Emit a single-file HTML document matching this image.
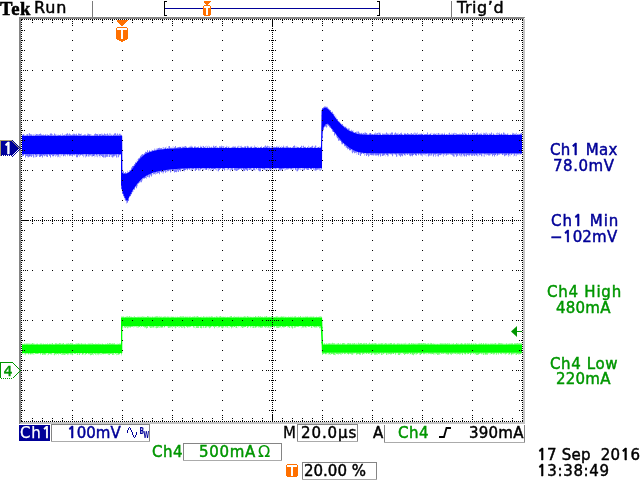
<!DOCTYPE html>
<html><head><meta charset="utf-8"><title>Tek scope</title>
<style>
html,body{margin:0;padding:0;background:#fff;width:640px;height:480px;overflow:hidden}
svg{display:block}
</style></head><body>
<svg width="640" height="480" viewBox="0 0 640 480" font-family="'DejaVu Sans', 'Liberation Sans', sans-serif">
<rect width="640" height="480" fill="#fff"/>
<text x="0" y="17.05" transform="scale(0.87,0.9)" font-family="'Liberation Serif', serif" font-weight="bold" font-size="21.5" letter-spacing="0.5" fill="#000" stroke="#000" stroke-width="0.6">Tek</text>
<text x="34.00" y="13" font-size="16" letter-spacing="0.90" fill="#000" stroke="#000" stroke-width="0.45">Run</text>
<rect x="92" y="1" width="1" height="16" fill="#7a7a7a"/>
<rect x="451" y="1" width="1" height="16" fill="#7a7a7a"/>
<text x="457.00" y="13" font-size="16" letter-spacing="0.54" fill="#000" stroke="#000" stroke-width="0.45">Trig&#8217;d</text>
<g shape-rendering="crispEdges">
<rect x="164" y="8" width="215" height="1" fill="#000098"/>
<path d="M164 1h3v1h-2v13h2v1h-3z M377 1h3v15h-3v-1h2v-13h-2z" fill="#000"/>
<path d="M204 1h7v1h-1v1h-1v1h-1v1h-2v-1h-1v-1h-1v-1h-1z" fill="#ff7000"/>
<path d="M204 5h6v1h1v9h-1v1h-6v-1h-1v-9h1z" fill="#ff7000"/>
<path d="M204 6h6v2h-2v7h-2v-7h-2z" fill="#fff"/>
<path d="M19 17h506v1h-1v1h-503v404h-1v1h-1z" fill="#858585"/>
<path d="M525 18v406h-505v-1h1v-1h502v-403h1z" fill="#c4c4c4"/>
</g>
<path d="M22 134.9h1v0.9h-1zM24 134.0h1v1.8h-1zM24 154.2h1v0.9h-1zM27 134.6h1v1.2h-1zM27 154.2h1v3.2h-1zM28 133.5h1v2.3h-1zM31 134.4h1v1.4h-1zM32 134.2h1v1.6h-1zM34 133.9h1v1.9h-1zM34 154.2h1v3.4h-1zM35 133.5h1v2.3h-1zM38 154.2h1v1.9h-1zM41 135.1h1v0.7h-1zM42 134.5h1v1.3h-1zM46 134.3h1v1.5h-1zM48 154.2h1v0.9h-1zM51 154.2h1v0.9h-1zM53 154.2h1v3.1h-1zM54 154.2h1v1.7h-1zM56 134.1h1v1.7h-1zM56 154.2h1v1.0h-1zM59 135.0h1v0.8h-1zM59 154.2h1v3.4h-1zM60 154.2h1v3.2h-1zM61 134.8h1v1.0h-1zM62 154.2h1v1.1h-1zM63 154.2h1v2.9h-1zM64 134.0h1v1.8h-1zM66 154.2h1v0.9h-1zM68 154.2h1v1.1h-1zM70 134.6h1v1.2h-1zM71 134.5h1v1.3h-1zM73 154.2h1v1.0h-1zM75 154.2h1v1.3h-1zM83 134.7h1v1.1h-1zM84 133.9h1v1.9h-1zM84 154.2h1v2.0h-1zM86 134.8h1v1.0h-1zM87 154.2h1v2.2h-1zM89 154.2h1v2.7h-1zM91 134.2h1v1.6h-1zM92 135.0h1v0.8h-1zM93 135.0h1v0.8h-1zM94 154.2h1v3.3h-1zM95 154.2h1v2.7h-1zM98 133.6h1v2.2h-1zM98 154.2h1v2.1h-1zM99 154.2h1v3.2h-1zM100 154.2h1v3.3h-1zM108 154.2h1v2.7h-1zM110 154.2h1v2.2h-1zM112 134.3h1v1.5h-1zM114 154.2h1v2.7h-1zM117 154.2h1v3.2h-1zM119 154.2h1v2.0h-1zM120 154.2h1v1.1h-1zM121 134.6h1v1.2h-1zM121 187.3h1v3.2h-1zM122 172.0h1v0.6h-1zM124 197.0h1v2.8h-1zM126 172.6h1v0.8h-1zM128 171.7h1v0.6h-1zM129 196.5h1v0.9h-1zM130 194.6h1v1.9h-1zM133 189.4h1v2.5h-1zM135 162.3h1v1.8h-1zM135 186.5h1v1.2h-1zM136 160.3h1v2.3h-1zM137 158.9h1v2.6h-1zM140 180.4h1v2.1h-1zM148 151.4h1v1.1h-1zM150 173.7h1v2.3h-1zM151 149.4h1v2.1h-1zM152 172.8h1v2.5h-1zM153 149.8h1v1.0h-1zM154 172.2h1v2.1h-1zM155 148.7h1v1.7h-1zM160 170.9h1v1.2h-1zM162 147.2h1v2.1h-1zM162 170.6h1v3.2h-1zM164 147.6h1v1.6h-1zM166 146.5h1v2.4h-1zM167 148.1h1v0.8h-1zM167 169.8h1v2.7h-1zM168 169.8h1v1.3h-1zM171 169.4h1v2.6h-1zM172 146.6h1v2.0h-1zM173 146.1h1v2.4h-1zM173 169.2h1v2.0h-1zM177 146.9h1v1.5h-1zM181 146.5h1v1.7h-1zM181 168.6h1v2.2h-1zM182 146.0h1v2.2h-1zM182 168.6h1v1.7h-1zM183 146.2h1v2.0h-1zM186 168.4h1v1.8h-1zM187 147.0h1v1.1h-1zM187 168.3h1v0.9h-1zM188 146.9h1v1.2h-1zM188 168.3h1v0.9h-1zM190 145.7h1v2.4h-1zM190 168.3h1v2.5h-1zM192 168.2h1v1.6h-1zM193 147.1h1v1.0h-1zM193 168.2h1v1.5h-1zM194 168.1h1v2.7h-1zM199 147.4h1v0.6h-1zM200 145.6h1v2.5h-1zM202 145.8h1v2.2h-1zM204 168.0h1v1.7h-1zM206 145.6h1v2.4h-1zM208 145.6h1v2.4h-1zM209 168.0h1v1.8h-1zM211 168.0h1v2.7h-1zM212 168.0h1v3.0h-1zM214 145.8h1v2.2h-1zM217 168.0h1v3.3h-1zM218 147.0h1v1.0h-1zM221 168.0h1v1.2h-1zM224 146.3h1v1.7h-1zM225 168.0h1v2.0h-1zM226 145.5h1v2.5h-1zM226 168.0h1v2.2h-1zM227 146.0h1v2.0h-1zM228 147.2h1v0.8h-1zM229 146.2h1v1.8h-1zM229 168.0h1v2.2h-1zM230 147.1h1v0.9h-1zM233 168.0h1v1.6h-1zM234 146.1h1v1.9h-1zM236 146.9h1v1.1h-1zM239 145.7h1v2.3h-1zM239 168.0h1v2.0h-1zM242 168.0h1v3.4h-1zM246 145.9h1v2.1h-1zM250 168.0h1v1.6h-1zM252 146.2h1v1.8h-1zM252 168.0h1v2.8h-1zM255 168.0h1v2.8h-1zM256 168.0h1v2.1h-1zM257 145.9h1v2.1h-1zM257 168.0h1v1.9h-1zM259 147.0h1v1.0h-1zM260 147.0h1v1.0h-1zM262 147.3h1v0.7h-1zM262 168.0h1v1.0h-1zM270 146.2h1v1.8h-1zM272 147.3h1v0.7h-1zM273 146.8h1v1.2h-1zM273 168.0h1v3.1h-1zM277 145.7h1v2.3h-1zM277 168.0h1v0.9h-1zM279 145.6h1v2.4h-1zM284 146.4h1v1.6h-1zM284 168.0h1v3.1h-1zM285 145.9h1v2.1h-1zM287 145.6h1v2.4h-1zM291 147.0h1v1.0h-1zM291 168.0h1v1.1h-1zM294 168.0h1v1.0h-1zM295 168.0h1v2.4h-1zM298 168.0h1v2.7h-1zM299 147.1h1v0.9h-1zM301 168.0h1v2.0h-1zM302 145.9h1v2.1h-1zM304 168.0h1v2.4h-1zM306 147.4h1v0.6h-1zM307 147.1h1v0.9h-1zM309 168.0h1v1.5h-1zM310 147.1h1v0.9h-1zM311 146.0h1v2.0h-1zM313 146.3h1v1.7h-1zM316 145.7h1v2.3h-1zM316 168.0h1v3.2h-1zM317 168.0h1v1.9h-1zM322 108.2h1v0.8h-1zM325 124.6h1v1.6h-1zM326 107.1h1v1.0h-1zM327 123.9h1v3.1h-1zM331 111.4h1v1.2h-1zM334 114.0h1v2.3h-1zM335 115.2h1v2.4h-1zM335 133.6h1v1.5h-1zM336 116.8h1v2.2h-1zM339 121.2h1v1.6h-1zM339 138.7h1v1.2h-1zM343 143.2h1v1.1h-1zM345 144.8h1v2.9h-1zM346 126.6h1v2.3h-1zM346 145.6h1v2.4h-1zM348 127.7h1v2.6h-1zM348 147.3h1v1.8h-1zM349 148.1h1v2.8h-1zM350 130.0h1v1.2h-1zM351 129.5h1v2.2h-1zM351 149.4h1v2.9h-1zM353 130.1h1v2.5h-1zM353 150.3h1v2.2h-1zM354 132.0h1v0.9h-1zM355 131.9h1v1.2h-1zM356 131.0h1v2.4h-1zM356 151.7h1v3.4h-1zM357 151.9h1v1.8h-1zM359 152.3h1v2.9h-1zM362 132.8h1v1.7h-1zM362 152.7h1v1.4h-1zM365 153.0h1v2.1h-1zM367 133.3h1v1.5h-1zM367 153.2h1v1.8h-1zM368 134.1h1v0.7h-1zM369 133.0h1v1.8h-1zM371 153.3h1v1.8h-1zM374 133.0h1v1.9h-1zM380 132.4h1v2.6h-1zM381 134.4h1v0.6h-1zM381 153.4h1v2.4h-1zM384 153.4h1v2.4h-1zM385 132.9h1v2.1h-1zM385 153.4h1v3.1h-1zM386 153.4h1v1.5h-1zM387 134.3h1v0.7h-1zM389 153.4h1v1.2h-1zM390 133.9h1v1.1h-1zM390 153.4h1v1.6h-1zM393 134.0h1v1.0h-1zM393 153.4h1v1.8h-1zM396 133.3h1v1.7h-1zM397 153.4h1v3.0h-1zM398 132.5h1v2.5h-1zM399 153.4h1v2.1h-1zM401 153.4h1v1.5h-1zM403 133.4h1v1.6h-1zM403 153.4h1v1.8h-1zM404 153.4h1v1.7h-1zM406 153.4h1v1.7h-1zM408 153.4h1v1.4h-1zM410 133.0h1v2.0h-1zM412 134.3h1v0.7h-1zM414 153.4h1v1.5h-1zM416 134.2h1v0.8h-1zM417 153.4h1v0.9h-1zM418 153.4h1v0.8h-1zM419 153.4h1v1.3h-1zM423 132.6h1v2.4h-1zM424 133.9h1v1.1h-1zM425 153.4h1v2.7h-1zM426 153.4h1v3.1h-1zM427 153.4h1v2.0h-1zM431 132.7h1v2.3h-1zM432 133.2h1v1.8h-1zM432 153.4h1v2.0h-1zM433 132.9h1v2.1h-1zM434 153.4h1v1.1h-1zM435 133.5h1v1.5h-1zM436 153.4h1v2.5h-1zM439 133.1h1v1.9h-1zM440 153.4h1v1.4h-1zM441 133.0h1v2.0h-1zM441 153.4h1v1.2h-1zM442 134.1h1v0.9h-1zM442 153.4h1v2.2h-1zM445 153.4h1v2.7h-1zM449 153.4h1v1.4h-1zM451 132.8h1v2.2h-1zM451 153.4h1v0.9h-1zM452 133.1h1v1.9h-1zM455 153.4h1v1.3h-1zM458 153.4h1v2.4h-1zM460 133.3h1v1.7h-1zM462 153.4h1v3.3h-1zM467 133.8h1v1.2h-1zM469 153.4h1v3.0h-1zM473 153.4h1v2.3h-1zM478 133.5h1v1.5h-1zM478 153.4h1v2.9h-1zM479 133.2h1v1.8h-1zM479 153.4h1v2.9h-1zM481 132.6h1v2.4h-1zM482 133.7h1v1.3h-1zM482 153.4h1v2.9h-1zM483 153.4h1v3.1h-1zM485 132.5h1v2.5h-1zM487 134.1h1v0.9h-1zM488 133.2h1v1.8h-1zM490 134.0h1v1.0h-1zM492 133.6h1v1.4h-1zM493 134.0h1v1.0h-1zM495 133.7h1v1.3h-1zM495 153.4h1v1.5h-1zM496 153.4h1v2.8h-1zM500 153.4h1v1.2h-1zM501 153.4h1v1.0h-1zM502 153.4h1v1.8h-1zM506 153.4h1v1.7h-1zM507 153.4h1v2.1h-1zM508 133.6h1v1.4h-1zM509 134.3h1v0.7h-1zM510 153.4h1v3.2h-1zM511 134.3h1v0.7h-1zM513 153.4h1v3.4h-1zM515 153.4h1v2.8h-1zM517 134.0h1v1.0h-1zM518 133.5h1v1.5h-1zM519 153.4h1v2.1h-1z" fill="#0000ff" fill-opacity="0.15"/><path d="M23 134.2h1v1.6h-1zM23 154.2h1v0.8h-1zM25 135.2h1v0.6h-1zM26 134.3h1v1.5h-1zM29 154.2h1v2.5h-1zM32 154.2h1v1.8h-1zM33 134.3h1v1.5h-1zM35 154.2h1v3.0h-1zM37 154.2h1v2.1h-1zM40 154.2h1v2.9h-1zM41 154.2h1v1.5h-1zM43 134.3h1v1.5h-1zM43 154.2h1v1.6h-1zM45 134.7h1v1.1h-1zM48 135.1h1v0.7h-1zM49 134.6h1v1.2h-1zM49 154.2h1v1.9h-1zM52 133.9h1v1.9h-1zM55 154.2h1v2.6h-1zM57 134.7h1v1.1h-1zM57 154.2h1v3.0h-1zM58 154.2h1v2.7h-1zM61 154.2h1v1.7h-1zM62 133.3h1v2.5h-1zM65 134.3h1v1.5h-1zM65 154.2h1v2.2h-1zM66 133.8h1v2.0h-1zM67 154.2h1v2.0h-1zM69 154.2h1v2.0h-1zM70 154.2h1v1.0h-1zM71 154.2h1v1.7h-1zM72 134.0h1v1.8h-1zM73 133.6h1v2.2h-1zM74 133.7h1v2.1h-1zM76 133.6h1v2.2h-1zM78 154.2h1v1.3h-1zM79 154.2h1v2.6h-1zM80 154.2h1v0.8h-1zM81 133.6h1v2.2h-1zM82 134.9h1v0.9h-1zM83 154.2h1v3.1h-1zM85 154.2h1v3.2h-1zM86 154.2h1v2.5h-1zM87 133.4h1v2.4h-1zM89 134.8h1v1.0h-1zM90 133.9h1v1.9h-1zM91 154.2h1v2.4h-1zM93 154.2h1v1.8h-1zM96 154.2h1v2.4h-1zM97 134.1h1v1.7h-1zM97 154.2h1v3.0h-1zM99 134.1h1v1.7h-1zM101 133.6h1v2.2h-1zM102 133.8h1v2.0h-1zM103 135.0h1v0.8h-1zM104 154.2h1v3.4h-1zM106 134.1h1v1.7h-1zM109 133.3h1v2.5h-1zM110 133.6h1v2.2h-1zM111 154.2h1v2.7h-1zM113 134.6h1v1.2h-1zM113 154.2h1v3.1h-1zM120 133.8h1v2.0h-1zM124 173.2h1v0.8h-1zM125 172.0h1v1.7h-1zM126 200.6h1v3.0h-1zM127 170.7h1v2.3h-1zM129 170.0h1v1.5h-1zM130 169.8h1v0.9h-1zM131 192.7h1v1.3h-1zM133 165.4h1v1.8h-1zM137 183.7h1v2.5h-1zM138 157.9h1v2.4h-1zM138 182.6h1v1.0h-1zM139 181.5h1v1.5h-1zM140 155.7h1v2.3h-1zM142 178.4h1v2.2h-1zM143 154.2h1v1.0h-1zM143 177.7h1v1.1h-1zM144 177.0h1v1.9h-1zM146 152.6h1v0.7h-1zM146 175.6h1v3.2h-1zM148 174.6h1v2.7h-1zM149 149.9h1v2.2h-1zM150 151.1h1v0.7h-1zM154 148.6h1v2.0h-1zM155 172.0h1v2.7h-1zM156 148.6h1v1.7h-1zM156 171.8h1v2.1h-1zM157 171.5h1v0.9h-1zM160 148.3h1v1.2h-1zM161 170.8h1v1.8h-1zM163 147.1h1v2.2h-1zM163 170.4h1v3.0h-1zM164 170.2h1v1.2h-1zM165 146.9h1v2.2h-1zM166 169.9h1v2.1h-1zM168 146.2h1v2.5h-1zM171 147.4h1v1.2h-1zM172 169.3h1v1.1h-1zM177 168.9h1v2.6h-1zM179 146.7h1v1.6h-1zM179 168.8h1v1.6h-1zM180 146.7h1v1.5h-1zM184 168.4h1v3.1h-1zM191 145.7h1v2.3h-1zM191 168.2h1v2.7h-1zM192 146.4h1v1.7h-1zM194 146.4h1v1.7h-1zM196 147.4h1v0.7h-1zM197 147.0h1v1.0h-1zM197 168.1h1v1.2h-1zM199 168.0h1v2.5h-1zM200 168.0h1v2.4h-1zM201 146.6h1v1.4h-1zM202 168.0h1v2.2h-1zM203 168.0h1v2.5h-1zM205 146.0h1v2.0h-1zM206 168.0h1v1.9h-1zM207 168.0h1v1.2h-1zM208 168.0h1v2.4h-1zM210 146.9h1v1.1h-1zM210 168.0h1v2.8h-1zM212 147.2h1v0.8h-1zM214 168.0h1v1.1h-1zM216 145.8h1v2.2h-1zM216 168.0h1v2.5h-1zM221 145.5h1v2.5h-1zM222 146.0h1v2.0h-1zM223 168.0h1v1.3h-1zM225 146.9h1v1.1h-1zM227 168.0h1v2.2h-1zM228 168.0h1v0.9h-1zM230 168.0h1v3.4h-1zM231 147.0h1v1.0h-1zM237 146.2h1v1.8h-1zM238 145.7h1v2.3h-1zM238 168.0h1v1.9h-1zM240 145.9h1v2.1h-1zM241 145.7h1v2.3h-1zM243 168.0h1v3.2h-1zM245 146.6h1v1.4h-1zM245 168.0h1v2.2h-1zM246 168.0h1v2.2h-1zM247 145.8h1v2.2h-1zM248 168.0h1v1.7h-1zM249 147.3h1v0.7h-1zM251 146.2h1v1.8h-1zM251 168.0h1v2.9h-1zM253 146.9h1v1.1h-1zM254 145.6h1v2.4h-1zM255 146.8h1v1.2h-1zM256 147.2h1v0.8h-1zM261 168.0h1v0.9h-1zM263 147.0h1v1.0h-1zM264 168.0h1v1.9h-1zM265 168.0h1v2.5h-1zM266 146.2h1v1.8h-1zM266 168.0h1v2.6h-1zM267 168.0h1v3.2h-1zM268 145.9h1v2.1h-1zM268 168.0h1v1.2h-1zM270 168.0h1v2.0h-1zM271 146.0h1v2.0h-1zM271 168.0h1v2.4h-1zM274 168.0h1v1.6h-1zM276 146.1h1v1.9h-1zM276 168.0h1v2.2h-1zM278 146.9h1v1.1h-1zM278 168.0h1v2.7h-1zM279 168.0h1v2.6h-1zM280 147.3h1v0.7h-1zM280 168.0h1v2.9h-1zM281 146.2h1v1.8h-1zM281 168.0h1v2.5h-1zM282 147.2h1v0.8h-1zM283 145.4h1v2.6h-1zM285 168.0h1v2.2h-1zM288 147.3h1v0.7h-1zM289 147.0h1v1.0h-1zM289 168.0h1v1.1h-1zM290 147.1h1v0.9h-1zM290 168.0h1v1.5h-1zM292 168.0h1v1.5h-1zM293 168.0h1v1.7h-1zM295 146.4h1v1.6h-1zM296 146.5h1v1.5h-1zM296 168.0h1v3.2h-1zM297 146.7h1v1.3h-1zM299 168.0h1v1.5h-1zM300 147.1h1v0.9h-1zM300 168.0h1v2.2h-1zM302 168.0h1v2.7h-1zM303 168.0h1v2.5h-1zM304 147.0h1v1.0h-1zM305 168.0h1v0.9h-1zM308 145.7h1v2.3h-1zM309 146.7h1v1.3h-1zM310 168.0h1v1.3h-1zM311 168.0h1v1.3h-1zM312 168.0h1v0.8h-1zM313 168.0h1v2.1h-1zM314 168.0h1v2.5h-1zM315 168.0h1v3.0h-1zM317 146.9h1v1.1h-1zM318 147.3h1v0.7h-1zM319 146.4h1v1.6h-1zM319 168.0h1v2.6h-1zM320 168.0h1v3.1h-1zM321 115.4h1v0.9h-1zM327 106.8h1v1.7h-1zM328 108.3h1v1.0h-1zM328 124.6h1v1.1h-1zM331 128.2h1v0.8h-1zM333 130.8h1v1.2h-1zM336 135.0h1v2.2h-1zM337 136.4h1v2.0h-1zM340 122.7h1v1.0h-1zM341 123.7h1v0.9h-1zM341 141.0h1v3.2h-1zM342 142.1h1v2.5h-1zM343 125.6h1v0.9h-1zM344 126.3h1v1.2h-1zM345 126.5h1v1.7h-1zM347 128.3h1v1.3h-1zM347 146.4h1v3.1h-1zM349 128.3h1v2.5h-1zM350 148.9h1v1.6h-1zM352 131.3h1v0.9h-1zM357 131.4h1v2.4h-1zM360 133.0h1v1.3h-1zM361 132.8h1v1.6h-1zM361 152.6h1v1.7h-1zM364 132.5h1v2.2h-1zM364 152.9h1v2.8h-1zM369 153.2h1v2.6h-1zM370 133.1h1v1.7h-1zM373 134.1h1v0.8h-1zM374 153.4h1v1.9h-1zM375 132.6h1v2.3h-1zM378 132.4h1v2.6h-1zM378 153.4h1v3.1h-1zM383 153.4h1v2.6h-1zM387 153.4h1v3.0h-1zM388 153.4h1v2.9h-1zM389 133.6h1v1.4h-1zM394 153.4h1v1.1h-1zM395 153.4h1v1.3h-1zM398 153.4h1v1.8h-1zM399 134.0h1v1.0h-1zM401 132.6h1v2.4h-1zM404 133.1h1v1.9h-1zM405 133.2h1v1.8h-1zM405 153.4h1v2.4h-1zM408 134.4h1v0.6h-1zM409 134.2h1v0.8h-1zM412 153.4h1v3.0h-1zM414 132.6h1v2.4h-1zM415 132.8h1v2.2h-1zM415 153.4h1v2.0h-1zM417 132.5h1v2.5h-1zM420 153.4h1v2.2h-1zM421 133.4h1v1.6h-1zM422 134.0h1v1.0h-1zM422 153.4h1v3.0h-1zM424 153.4h1v1.8h-1zM428 134.0h1v1.0h-1zM430 133.9h1v1.1h-1zM430 153.4h1v2.3h-1zM431 153.4h1v2.4h-1zM435 153.4h1v3.3h-1zM436 133.3h1v1.7h-1zM437 133.5h1v1.5h-1zM437 153.4h1v2.8h-1zM440 133.7h1v1.3h-1zM443 134.0h1v1.0h-1zM443 153.4h1v3.3h-1zM444 132.7h1v2.3h-1zM444 153.4h1v1.5h-1zM445 134.4h1v0.6h-1zM447 133.9h1v1.1h-1zM447 153.4h1v1.5h-1zM448 133.5h1v1.5h-1zM448 153.4h1v1.5h-1zM453 133.7h1v1.3h-1zM454 132.8h1v2.2h-1zM454 153.4h1v3.4h-1zM455 132.9h1v2.1h-1zM460 153.4h1v3.2h-1zM461 153.4h1v3.2h-1zM464 132.6h1v2.4h-1zM465 132.9h1v2.1h-1zM465 153.4h1v2.4h-1zM469 134.2h1v0.8h-1zM470 133.3h1v1.7h-1zM470 153.4h1v1.7h-1zM471 134.1h1v0.9h-1zM473 132.8h1v2.2h-1zM475 153.4h1v1.8h-1zM476 133.1h1v1.9h-1zM476 153.4h1v1.5h-1zM477 153.4h1v3.0h-1zM483 132.8h1v2.2h-1zM484 153.4h1v3.3h-1zM486 132.5h1v2.5h-1zM486 153.4h1v2.0h-1zM490 153.4h1v1.8h-1zM491 153.4h1v1.0h-1zM494 134.3h1v0.7h-1zM496 133.0h1v2.0h-1zM497 132.5h1v2.5h-1zM497 153.4h1v2.6h-1zM498 133.0h1v2.0h-1zM498 153.4h1v1.5h-1zM499 132.5h1v2.5h-1zM499 153.4h1v1.7h-1zM501 133.3h1v1.7h-1zM502 134.0h1v1.0h-1zM503 153.4h1v1.4h-1zM504 132.8h1v2.2h-1zM505 133.7h1v1.3h-1zM506 134.1h1v0.9h-1zM508 153.4h1v3.3h-1zM509 153.4h1v2.4h-1zM510 133.9h1v1.1h-1zM512 132.7h1v2.3h-1zM512 153.4h1v0.9h-1zM516 132.7h1v2.3h-1zM516 153.4h1v2.9h-1zM518 153.4h1v1.3h-1zM520 133.7h1v1.3h-1zM521 153.4h1v0.9h-1z" fill="#0000ff" fill-opacity="0.3"/><path d="M22 134.8h1v1.0h-1zM22 154.2h1v2.0h-1zM22 154.2h1v0.8h-1zM23 134.5h1v1.3h-1zM23 154.2h1v1.7h-1zM25 154.2h1v3.3h-1zM25 154.2h1v0.8h-1zM26 154.2h1v1.7h-1zM26 154.2h1v1.2h-1zM27 134.3h1v1.5h-1zM27 154.2h1v2.0h-1zM28 154.2h1v3.1h-1zM29 133.3h1v2.5h-1zM29 154.2h1v2.0h-1zM30 134.2h1v1.6h-1zM30 134.4h1v1.4h-1zM30 154.2h1v2.0h-1zM31 134.4h1v1.4h-1zM31 154.2h1v2.8h-1zM31 154.2h1v1.2h-1zM33 154.2h1v3.4h-1zM35 134.9h1v0.9h-1zM35 154.2h1v0.9h-1zM36 134.1h1v1.7h-1zM36 134.5h1v1.3h-1zM36 154.2h1v2.9h-1zM37 134.9h1v0.9h-1zM37 134.3h1v1.5h-1zM38 134.8h1v1.0h-1zM38 134.4h1v1.4h-1zM39 134.0h1v1.8h-1zM39 134.7h1v1.1h-1zM39 154.2h1v2.9h-1zM39 154.2h1v1.4h-1zM40 133.5h1v2.3h-1zM40 154.2h1v2.0h-1zM41 134.5h1v1.3h-1zM41 154.2h1v1.5h-1zM42 135.0h1v0.8h-1zM42 154.2h1v3.3h-1zM42 154.2h1v1.6h-1zM43 135.2h1v0.6h-1zM43 154.2h1v0.8h-1zM44 135.0h1v0.8h-1zM44 154.2h1v1.3h-1zM44 154.2h1v2.0h-1zM45 134.5h1v1.3h-1zM45 154.2h1v1.2h-1zM46 154.2h1v2.4h-1zM47 134.8h1v1.0h-1zM47 134.6h1v1.2h-1zM47 154.2h1v2.9h-1zM48 135.1h1v0.7h-1zM49 154.2h1v1.4h-1zM50 133.5h1v2.3h-1zM50 154.2h1v3.3h-1zM50 154.2h1v1.8h-1zM51 133.5h1v2.3h-1zM51 154.2h1v0.8h-1zM52 154.2h1v2.1h-1zM52 154.2h1v1.3h-1zM53 135.2h1v0.6h-1zM53 154.2h1v1.8h-1zM54 133.6h1v2.2h-1zM54 154.2h1v0.6h-1zM55 134.4h1v1.4h-1zM55 134.4h1v1.4h-1zM56 154.2h1v1.3h-1zM57 154.2h1v0.7h-1zM58 134.7h1v1.1h-1zM58 154.2h1v1.3h-1zM59 134.9h1v0.9h-1zM60 134.5h1v1.3h-1zM63 135.2h1v0.6h-1zM63 134.9h1v0.9h-1zM63 154.2h1v1.7h-1zM64 135.1h1v0.7h-1zM64 154.2h1v1.4h-1zM66 134.6h1v1.2h-1zM67 133.3h1v2.5h-1zM67 154.2h1v0.6h-1zM68 134.6h1v1.2h-1zM69 133.6h1v2.2h-1zM69 154.2h1v1.3h-1zM70 134.4h1v1.4h-1zM70 154.2h1v1.4h-1zM71 135.0h1v0.8h-1zM72 135.2h1v0.6h-1zM72 154.2h1v2.4h-1zM72 154.2h1v0.8h-1zM73 134.7h1v1.1h-1zM73 154.2h1v0.5h-1zM74 134.4h1v1.4h-1zM74 154.2h1v1.2h-1zM75 134.5h1v1.3h-1zM76 134.5h1v1.3h-1zM76 154.2h1v3.0h-1zM76 154.2h1v1.9h-1zM77 134.9h1v0.9h-1zM77 135.0h1v0.8h-1zM77 154.2h1v3.1h-1zM78 133.5h1v2.3h-1zM78 154.2h1v0.7h-1zM79 133.8h1v2.0h-1zM79 134.5h1v1.3h-1zM80 134.1h1v1.7h-1zM80 134.7h1v1.1h-1zM80 154.2h1v1.2h-1zM81 154.2h1v0.8h-1zM81 154.2h1v0.7h-1zM82 154.2h1v1.5h-1zM82 154.2h1v1.4h-1zM83 135.0h1v0.8h-1zM84 134.8h1v1.0h-1zM85 134.5h1v1.3h-1zM86 154.2h1v1.7h-1zM87 135.0h1v0.8h-1zM88 133.7h1v2.1h-1zM88 135.2h1v0.6h-1zM88 154.2h1v2.4h-1zM89 134.3h1v1.5h-1zM89 154.2h1v1.1h-1zM90 154.2h1v1.2h-1zM92 154.2h1v2.4h-1zM93 154.2h1v1.9h-1zM94 134.3h1v1.5h-1zM94 154.2h1v1.3h-1zM95 133.4h1v2.4h-1zM95 135.0h1v0.8h-1zM96 134.1h1v1.7h-1zM96 134.6h1v1.2h-1zM96 154.2h1v0.9h-1zM97 134.5h1v1.3h-1zM99 134.4h1v1.4h-1zM99 154.2h1v1.7h-1zM100 134.1h1v1.7h-1zM100 154.2h1v1.1h-1zM101 154.2h1v1.7h-1zM101 154.2h1v0.7h-1zM102 134.9h1v0.9h-1zM102 154.2h1v2.8h-1zM103 134.7h1v1.1h-1zM103 154.2h1v3.4h-1zM104 133.4h1v2.4h-1zM105 134.2h1v1.6h-1zM105 154.2h1v3.4h-1zM105 154.2h1v1.5h-1zM106 154.2h1v2.6h-1zM106 154.2h1v1.1h-1zM107 133.5h1v2.3h-1zM107 154.2h1v2.6h-1zM107 154.2h1v2.0h-1zM108 134.7h1v1.1h-1zM108 135.3h1v0.5h-1zM109 154.2h1v2.8h-1zM109 154.2h1v1.9h-1zM110 154.2h1v0.9h-1zM111 134.9h1v0.9h-1zM111 134.8h1v1.0h-1zM111 154.2h1v0.6h-1zM112 154.2h1v3.3h-1zM112 154.2h1v1.5h-1zM113 135.1h1v0.7h-1zM113 154.2h1v1.6h-1zM114 133.4h1v2.4h-1zM114 134.8h1v1.0h-1zM114 154.2h1v1.6h-1zM115 133.2h1v2.6h-1zM115 134.7h1v1.1h-1zM115 154.2h1v1.4h-1zM115 154.2h1v1.2h-1zM116 134.7h1v1.1h-1zM116 135.1h1v0.7h-1zM116 154.2h1v3.3h-1zM116 154.2h1v1.5h-1zM117 133.5h1v2.3h-1zM117 134.3h1v1.5h-1zM118 134.8h1v1.0h-1zM118 154.2h1v3.1h-1zM118 154.2h1v1.9h-1zM119 133.7h1v2.1h-1zM119 154.2h1v0.7h-1zM120 134.9h1v0.9h-1zM121 135.0h1v0.8h-1zM121 187.3h1v1.7h-1zM122 192.0h1v2.1h-1zM123 171.2h1v2.5h-1zM123 172.5h1v1.2h-1zM123 194.7h1v1.5h-1zM124 173.0h1v1.0h-1zM124 197.0h1v0.9h-1zM125 172.5h1v1.3h-1zM125 199.0h1v1.7h-1zM125 199.0h1v0.8h-1zM127 200.8h1v1.8h-1zM127 200.8h1v1.9h-1zM128 198.7h1v2.2h-1zM128 198.7h1v0.7h-1zM130 194.6h1v1.5h-1zM131 167.5h1v2.1h-1zM131 192.7h1v1.5h-1zM132 165.9h1v2.5h-1zM132 190.9h1v1.4h-1zM133 165.9h1v1.2h-1zM134 164.1h1v1.7h-1zM134 164.4h1v1.4h-1zM134 187.9h1v1.9h-1zM134 187.9h1v0.9h-1zM135 162.6h1v1.5h-1zM136 185.0h1v3.2h-1zM136 185.0h1v1.1h-1zM137 160.9h1v0.5h-1zM138 159.2h1v1.1h-1zM138 182.6h1v0.6h-1zM139 157.8h1v1.4h-1zM139 157.9h1v1.3h-1zM140 156.6h1v1.4h-1zM140 180.4h1v1.0h-1zM141 154.8h1v2.2h-1zM141 156.3h1v0.6h-1zM141 179.3h1v2.9h-1zM142 154.1h1v2.0h-1zM143 177.7h1v0.6h-1zM144 153.3h1v1.2h-1zM144 177.0h1v1.0h-1zM145 151.8h1v2.1h-1zM145 153.3h1v0.6h-1zM145 176.3h1v1.6h-1zM145 176.3h1v1.0h-1zM146 151.9h1v1.5h-1zM147 150.3h1v2.5h-1zM147 175.1h1v1.1h-1zM147 175.1h1v1.8h-1zM149 151.1h1v1.0h-1zM149 174.2h1v3.3h-1zM150 173.7h1v1.1h-1zM151 173.3h1v3.3h-1zM151 173.3h1v0.7h-1zM152 150.0h1v1.1h-1zM153 172.4h1v1.9h-1zM153 172.4h1v1.8h-1zM154 149.9h1v0.7h-1zM154 172.2h1v1.5h-1zM155 172.0h1v0.5h-1zM157 148.4h1v1.6h-1zM157 171.5h1v2.0h-1zM158 147.9h1v2.0h-1zM158 149.2h1v0.6h-1zM158 171.3h1v1.6h-1zM158 171.3h1v1.7h-1zM159 147.8h1v1.9h-1zM159 148.8h1v0.9h-1zM159 171.1h1v3.2h-1zM159 171.1h1v1.5h-1zM160 148.6h1v1.0h-1zM160 170.9h1v0.5h-1zM161 148.0h1v1.4h-1zM161 170.8h1v1.5h-1zM162 170.6h1v1.2h-1zM163 170.4h1v1.7h-1zM164 148.6h1v0.5h-1zM164 170.2h1v0.7h-1zM165 148.0h1v1.0h-1zM165 170.1h1v2.7h-1zM165 170.1h1v1.0h-1zM167 148.2h1v0.7h-1zM167 169.8h1v1.2h-1zM168 169.8h1v1.4h-1zM169 146.1h1v2.6h-1zM169 147.7h1v0.9h-1zM169 169.7h1v0.9h-1zM170 147.8h1v0.8h-1zM170 169.6h1v3.0h-1zM170 169.6h1v0.9h-1zM172 169.3h1v1.3h-1zM173 169.2h1v1.9h-1zM174 147.4h1v1.0h-1zM174 147.2h1v1.3h-1zM174 169.2h1v3.2h-1zM174 169.2h1v1.3h-1zM175 146.0h1v2.4h-1zM175 169.1h1v2.9h-1zM175 169.1h1v1.2h-1zM176 147.8h1v0.6h-1zM176 169.0h1v3.2h-1zM176 169.0h1v1.3h-1zM177 147.6h1v0.8h-1zM177 168.9h1v0.9h-1zM178 146.9h1v1.4h-1zM178 168.8h1v3.3h-1zM179 147.3h1v1.0h-1zM179 168.8h1v1.1h-1zM180 146.9h1v1.3h-1zM180 168.7h1v2.7h-1zM182 147.2h1v1.0h-1zM183 147.1h1v1.1h-1zM183 168.5h1v2.6h-1zM183 168.5h1v0.7h-1zM184 146.4h1v1.7h-1zM184 168.4h1v1.7h-1zM185 145.9h1v2.2h-1zM185 146.8h1v1.3h-1zM185 168.4h1v1.5h-1zM186 146.8h1v1.3h-1zM186 168.4h1v0.7h-1zM187 168.3h1v2.0h-1zM188 147.5h1v0.6h-1zM189 146.7h1v1.3h-1zM189 168.3h1v1.4h-1zM189 168.3h1v0.5h-1zM190 146.7h1v1.4h-1zM191 147.0h1v1.1h-1zM192 147.3h1v0.7h-1zM192 168.2h1v1.3h-1zM193 168.2h1v0.9h-1zM194 146.8h1v1.3h-1zM195 146.4h1v1.7h-1zM195 168.1h1v2.9h-1zM196 147.4h1v0.6h-1zM196 168.1h1v1.0h-1zM196 168.1h1v1.9h-1zM197 147.2h1v0.8h-1zM198 146.6h1v1.4h-1zM198 147.2h1v0.8h-1zM198 168.0h1v2.6h-1zM200 146.7h1v1.3h-1zM200 168.0h1v1.1h-1zM201 147.0h1v1.0h-1zM201 168.0h1v0.9h-1zM203 145.9h1v2.2h-1zM204 146.9h1v1.1h-1zM204 146.9h1v1.1h-1zM204 168.0h1v0.6h-1zM205 168.0h1v1.7h-1zM206 168.0h1v1.8h-1zM207 146.5h1v1.5h-1zM207 146.9h1v1.1h-1zM209 147.2h1v0.8h-1zM209 146.6h1v1.5h-1zM209 168.0h1v0.9h-1zM211 146.7h1v1.3h-1zM211 168.0h1v1.1h-1zM212 168.0h1v1.1h-1zM213 145.8h1v2.2h-1zM213 147.3h1v0.7h-1zM213 168.0h1v2.8h-1zM214 146.9h1v1.1h-1zM214 168.0h1v1.1h-1zM215 146.1h1v1.9h-1zM215 168.0h1v1.4h-1zM215 168.0h1v0.5h-1zM217 147.2h1v0.8h-1zM217 168.0h1v0.5h-1zM218 168.0h1v3.2h-1zM218 168.0h1v1.3h-1zM219 146.2h1v1.8h-1zM219 147.1h1v0.9h-1zM219 168.0h1v2.0h-1zM220 146.6h1v1.4h-1zM220 146.6h1v1.4h-1zM220 168.0h1v0.9h-1zM220 168.0h1v0.5h-1zM221 146.7h1v1.3h-1zM222 168.0h1v2.5h-1zM223 146.3h1v1.7h-1zM223 147.1h1v0.9h-1zM223 168.0h1v0.7h-1zM224 168.0h1v2.4h-1zM224 168.0h1v1.9h-1zM225 147.2h1v0.8h-1zM226 146.7h1v1.3h-1zM228 146.8h1v1.2h-1zM228 168.0h1v1.6h-1zM231 168.0h1v1.7h-1zM231 168.0h1v1.3h-1zM232 146.8h1v1.2h-1zM232 147.2h1v0.8h-1zM232 168.0h1v2.9h-1zM232 168.0h1v1.1h-1zM233 146.5h1v1.5h-1zM233 146.6h1v1.4h-1zM234 147.0h1v1.0h-1zM234 168.0h1v2.3h-1zM234 168.0h1v1.3h-1zM235 147.2h1v0.8h-1zM235 146.5h1v1.5h-1zM235 168.0h1v2.5h-1zM235 168.0h1v1.6h-1zM236 168.0h1v2.9h-1zM236 168.0h1v1.2h-1zM237 147.3h1v0.7h-1zM237 168.0h1v2.5h-1zM238 168.0h1v1.5h-1zM239 168.0h1v1.1h-1zM240 168.0h1v1.0h-1zM241 147.3h1v0.7h-1zM241 168.0h1v2.1h-1zM241 168.0h1v1.1h-1zM242 146.9h1v1.1h-1zM242 168.0h1v0.6h-1zM243 147.3h1v0.7h-1zM243 147.3h1v0.7h-1zM243 168.0h1v1.4h-1zM244 147.3h1v0.7h-1zM244 146.4h1v1.6h-1zM244 168.0h1v2.9h-1zM245 146.5h1v1.5h-1zM245 168.0h1v1.0h-1zM246 168.0h1v1.4h-1zM247 146.4h1v1.6h-1zM247 168.0h1v2.9h-1zM248 147.3h1v0.7h-1zM248 146.5h1v1.5h-1zM249 168.0h1v2.1h-1zM249 168.0h1v1.3h-1zM250 146.7h1v1.3h-1zM250 147.3h1v0.7h-1zM250 168.0h1v1.4h-1zM251 147.0h1v1.0h-1zM253 168.0h1v2.3h-1zM253 168.0h1v1.6h-1zM254 147.4h1v0.6h-1zM254 168.0h1v2.2h-1zM254 168.0h1v0.8h-1zM255 147.0h1v1.0h-1zM256 147.2h1v0.8h-1zM256 168.0h1v1.1h-1zM258 147.3h1v0.7h-1zM258 168.0h1v2.4h-1zM258 168.0h1v2.0h-1zM259 168.0h1v3.3h-1zM259 168.0h1v0.9h-1zM260 147.0h1v1.0h-1zM260 168.0h1v3.2h-1zM261 147.0h1v1.0h-1zM261 146.5h1v1.5h-1zM262 168.0h1v1.3h-1zM263 147.0h1v1.0h-1zM263 168.0h1v1.6h-1zM263 168.0h1v1.4h-1zM264 147.0h1v1.0h-1zM264 146.5h1v1.5h-1zM264 168.0h1v1.3h-1zM265 145.5h1v2.5h-1zM266 147.1h1v0.9h-1zM267 145.7h1v2.3h-1zM269 146.4h1v1.6h-1zM269 168.0h1v1.8h-1zM269 168.0h1v1.0h-1zM270 168.0h1v1.2h-1zM272 146.7h1v1.3h-1zM272 168.0h1v0.8h-1zM273 147.2h1v0.8h-1zM273 168.0h1v0.6h-1zM274 147.2h1v0.8h-1zM274 146.7h1v1.3h-1zM275 146.9h1v1.1h-1zM275 168.0h1v1.3h-1zM276 147.1h1v0.9h-1zM277 147.3h1v0.7h-1zM278 146.8h1v1.2h-1zM279 168.0h1v1.5h-1zM280 147.1h1v0.9h-1zM280 168.0h1v1.4h-1zM281 168.0h1v1.0h-1zM282 147.3h1v0.7h-1zM282 168.0h1v2.4h-1zM283 146.7h1v1.3h-1zM283 168.0h1v0.9h-1zM284 147.4h1v0.6h-1zM284 168.0h1v0.6h-1zM285 147.5h1v0.5h-1zM286 146.2h1v1.8h-1zM286 147.3h1v0.7h-1zM286 168.0h1v1.6h-1zM287 146.6h1v1.4h-1zM287 168.0h1v1.4h-1zM288 147.5h1v0.5h-1zM288 168.0h1v1.3h-1zM288 168.0h1v0.8h-1zM290 147.5h1v0.5h-1zM290 168.0h1v0.6h-1zM291 168.0h1v1.6h-1zM292 147.2h1v0.8h-1zM292 147.2h1v0.8h-1zM293 146.0h1v2.0h-1zM293 147.3h1v0.7h-1zM294 145.6h1v2.4h-1zM294 146.8h1v1.2h-1zM295 168.0h1v1.7h-1zM297 147.2h1v0.8h-1zM297 168.0h1v3.3h-1zM297 168.0h1v0.7h-1zM298 147.1h1v0.9h-1zM298 146.9h1v1.1h-1zM298 168.0h1v1.5h-1zM300 147.0h1v1.0h-1zM301 145.7h1v2.3h-1zM301 146.8h1v1.2h-1zM303 145.7h1v2.3h-1zM304 147.2h1v0.8h-1zM304 168.0h1v1.8h-1zM305 146.8h1v1.2h-1zM305 147.1h1v0.9h-1zM306 168.0h1v1.4h-1zM307 146.9h1v1.1h-1zM307 168.0h1v2.1h-1zM308 168.0h1v1.9h-1zM308 168.0h1v1.3h-1zM310 147.0h1v1.0h-1zM310 168.0h1v0.9h-1zM311 146.8h1v1.2h-1zM311 168.0h1v1.6h-1zM312 145.7h1v2.3h-1zM313 168.0h1v0.6h-1zM314 146.8h1v1.2h-1zM315 145.6h1v2.4h-1zM315 147.1h1v0.9h-1zM315 168.0h1v1.5h-1zM316 168.0h1v1.8h-1zM317 168.0h1v1.5h-1zM318 146.9h1v1.1h-1zM318 168.0h1v1.5h-1zM319 168.0h1v0.6h-1zM320 146.7h1v1.3h-1zM321 168.0h1v1.4h-1zM322 107.9h1v1.0h-1zM322 135.8h1v2.3h-1zM322 135.8h1v1.3h-1zM323 107.3h1v0.9h-1zM323 107.7h1v0.5h-1zM323 128.0h1v2.2h-1zM324 106.4h1v1.5h-1zM324 126.3h1v0.9h-1zM324 126.3h1v1.0h-1zM325 106.6h1v1.1h-1zM325 124.6h1v1.8h-1zM326 106.8h1v1.4h-1zM326 124.3h1v3.3h-1zM326 124.3h1v1.7h-1zM327 107.8h1v0.7h-1zM327 123.9h1v0.8h-1zM328 124.6h1v0.8h-1zM329 109.6h1v0.9h-1zM329 125.7h1v1.6h-1zM330 110.0h1v1.5h-1zM330 126.9h1v1.2h-1zM331 111.9h1v0.7h-1zM331 128.2h1v1.1h-1zM332 111.8h1v1.9h-1zM332 112.2h1v1.4h-1zM332 129.5h1v2.0h-1zM332 129.5h1v1.8h-1zM333 114.2h1v0.7h-1zM333 113.8h1v1.1h-1zM333 130.8h1v1.2h-1zM334 132.2h1v3.3h-1zM334 132.2h1v1.1h-1zM337 118.9h1v1.5h-1zM337 119.9h1v0.6h-1zM337 136.4h1v1.3h-1zM338 120.9h1v0.9h-1zM338 137.6h1v3.1h-1zM339 121.9h1v0.9h-1zM339 138.7h1v1.7h-1zM340 139.8h1v1.2h-1zM340 139.8h1v0.6h-1zM341 141.0h1v1.3h-1zM342 124.1h1v1.5h-1zM342 142.1h1v1.7h-1zM343 125.9h1v0.7h-1zM344 144.0h1v2.3h-1zM344 144.0h1v1.4h-1zM345 127.0h1v1.2h-1zM345 144.8h1v1.3h-1zM346 128.1h1v0.8h-1zM346 145.6h1v2.0h-1zM347 146.4h1v1.9h-1zM348 128.7h1v1.6h-1zM348 147.3h1v1.5h-1zM349 148.1h1v1.8h-1zM350 148.9h1v1.0h-1zM351 130.4h1v1.3h-1zM352 130.7h1v1.4h-1zM352 149.9h1v3.3h-1zM353 131.9h1v0.7h-1zM353 150.3h1v1.4h-1zM354 150.8h1v2.4h-1zM355 131.9h1v1.3h-1zM355 151.3h1v1.4h-1zM355 151.3h1v1.3h-1zM356 132.5h1v1.0h-1zM356 151.7h1v0.7h-1zM358 131.6h1v2.4h-1zM358 132.7h1v1.2h-1zM358 152.1h1v2.9h-1zM359 133.4h1v0.7h-1zM359 132.8h1v1.3h-1zM360 152.5h1v3.4h-1zM361 133.5h1v0.9h-1zM361 152.6h1v1.1h-1zM362 133.9h1v0.7h-1zM363 133.1h1v1.5h-1zM363 134.0h1v0.6h-1zM363 152.8h1v1.2h-1zM363 152.8h1v1.2h-1zM364 133.9h1v0.7h-1zM365 132.5h1v2.2h-1zM366 133.1h1v1.6h-1zM366 134.1h1v0.6h-1zM366 153.1h1v3.0h-1zM367 153.2h1v1.2h-1zM368 153.2h1v3.3h-1zM368 153.2h1v1.2h-1zM369 133.4h1v1.4h-1zM370 133.3h1v1.6h-1zM370 153.3h1v1.8h-1zM370 153.3h1v0.7h-1zM371 133.8h1v1.0h-1zM371 153.3h1v1.9h-1zM372 133.9h1v1.0h-1zM372 153.3h1v1.0h-1zM372 153.3h1v2.0h-1zM373 153.3h1v2.3h-1zM373 153.3h1v1.5h-1zM374 133.8h1v1.2h-1zM375 134.4h1v0.6h-1zM375 153.4h1v2.1h-1zM376 133.5h1v1.5h-1zM376 153.4h1v1.6h-1zM376 153.4h1v2.0h-1zM377 133.0h1v2.0h-1zM377 153.4h1v1.8h-1zM377 153.4h1v0.5h-1zM378 153.4h1v1.8h-1zM379 132.8h1v2.2h-1zM379 153.4h1v1.2h-1zM380 133.7h1v1.3h-1zM380 153.4h1v3.2h-1zM380 153.4h1v1.6h-1zM382 133.8h1v1.2h-1zM382 133.5h1v1.5h-1zM382 153.4h1v2.6h-1zM382 153.4h1v0.7h-1zM383 133.8h1v1.2h-1zM383 153.4h1v1.3h-1zM384 133.7h1v1.3h-1zM384 134.3h1v0.7h-1zM384 153.4h1v1.3h-1zM385 134.3h1v0.7h-1zM386 132.6h1v2.4h-1zM386 133.8h1v1.2h-1zM386 153.4h1v1.4h-1zM387 133.5h1v1.5h-1zM387 153.4h1v1.7h-1zM388 134.0h1v1.0h-1zM388 133.8h1v1.2h-1zM390 133.6h1v1.4h-1zM390 153.4h1v0.7h-1zM391 132.6h1v2.4h-1zM391 153.4h1v1.1h-1zM392 132.5h1v2.5h-1zM392 134.2h1v0.8h-1zM392 153.4h1v2.8h-1zM392 153.4h1v2.0h-1zM394 133.6h1v1.4h-1zM395 132.6h1v2.4h-1zM395 153.4h1v0.9h-1zM396 133.8h1v1.2h-1zM396 153.4h1v3.3h-1zM397 133.5h1v1.5h-1zM398 134.4h1v0.6h-1zM399 134.1h1v0.9h-1zM399 153.4h1v2.0h-1zM400 133.3h1v1.7h-1zM400 153.4h1v3.3h-1zM400 153.4h1v1.5h-1zM401 133.7h1v1.3h-1zM401 153.4h1v2.0h-1zM402 134.3h1v0.7h-1zM402 153.4h1v2.8h-1zM403 153.4h1v0.6h-1zM404 133.9h1v1.1h-1zM404 153.4h1v1.8h-1zM405 133.9h1v1.1h-1zM406 134.1h1v0.9h-1zM406 133.9h1v1.1h-1zM407 133.1h1v1.9h-1zM407 133.5h1v1.5h-1zM407 153.4h1v1.6h-1zM407 153.4h1v1.0h-1zM408 133.8h1v1.2h-1zM409 134.3h1v0.7h-1zM409 153.4h1v2.2h-1zM409 153.4h1v1.1h-1zM410 134.3h1v0.7h-1zM410 153.4h1v2.9h-1zM411 132.9h1v2.1h-1zM411 153.4h1v2.1h-1zM411 153.4h1v0.6h-1zM412 134.0h1v1.0h-1zM412 153.4h1v2.0h-1zM413 133.5h1v1.5h-1zM413 134.5h1v0.5h-1zM413 153.4h1v1.6h-1zM414 153.4h1v0.5h-1zM415 134.4h1v0.6h-1zM415 153.4h1v1.5h-1zM416 133.5h1v1.5h-1zM416 153.4h1v2.4h-1zM418 134.1h1v0.9h-1zM418 153.4h1v1.8h-1zM419 133.8h1v1.2h-1zM419 133.9h1v1.1h-1zM420 133.7h1v1.3h-1zM420 134.1h1v0.9h-1zM420 153.4h1v0.8h-1zM421 133.8h1v1.2h-1zM421 153.4h1v2.2h-1zM421 153.4h1v1.0h-1zM422 134.1h1v0.9h-1zM423 153.4h1v0.9h-1zM423 153.4h1v1.1h-1zM424 134.2h1v0.8h-1zM425 134.4h1v0.6h-1zM425 133.9h1v1.1h-1zM425 153.4h1v0.8h-1zM426 134.1h1v0.9h-1zM426 153.4h1v0.7h-1zM427 132.5h1v2.5h-1zM428 153.4h1v3.2h-1zM428 153.4h1v0.8h-1zM429 134.1h1v0.9h-1zM429 134.0h1v1.0h-1zM429 153.4h1v1.8h-1zM429 153.4h1v2.0h-1zM430 133.4h1v1.6h-1zM431 153.4h1v1.1h-1zM433 134.0h1v1.0h-1zM433 153.4h1v3.1h-1zM433 153.4h1v1.8h-1zM434 133.4h1v1.6h-1zM434 153.4h1v1.0h-1zM435 134.1h1v0.9h-1zM435 153.4h1v0.9h-1zM436 153.4h1v0.6h-1zM438 133.0h1v2.0h-1zM438 153.4h1v3.0h-1zM438 153.4h1v0.6h-1zM439 134.5h1v0.5h-1zM439 153.4h1v1.6h-1zM439 153.4h1v1.6h-1zM440 153.4h1v1.8h-1zM441 134.3h1v0.7h-1zM441 153.4h1v1.1h-1zM442 133.6h1v1.4h-1zM443 153.4h1v0.6h-1zM444 134.0h1v1.0h-1zM446 134.1h1v0.9h-1zM446 153.4h1v2.1h-1zM449 132.8h1v2.2h-1zM450 134.3h1v0.7h-1zM450 153.4h1v1.2h-1zM450 153.4h1v0.5h-1zM451 134.4h1v0.6h-1zM451 153.4h1v1.3h-1zM452 134.4h1v0.6h-1zM452 153.4h1v2.0h-1zM453 133.5h1v1.5h-1zM453 153.4h1v3.1h-1zM453 153.4h1v0.6h-1zM455 153.4h1v1.0h-1zM456 133.6h1v1.4h-1zM456 153.4h1v3.3h-1zM457 134.0h1v1.0h-1zM457 153.4h1v2.4h-1zM457 153.4h1v2.0h-1zM458 133.9h1v1.1h-1zM459 133.8h1v1.2h-1zM459 134.1h1v0.9h-1zM459 153.4h1v2.1h-1zM460 134.3h1v0.7h-1zM461 133.9h1v1.1h-1zM461 153.4h1v1.4h-1zM462 132.8h1v2.2h-1zM462 153.4h1v0.5h-1zM463 133.8h1v1.2h-1zM463 133.7h1v1.3h-1zM463 153.4h1v2.1h-1zM464 153.4h1v3.1h-1zM464 153.4h1v0.9h-1zM465 133.9h1v1.1h-1zM466 133.8h1v1.2h-1zM466 153.4h1v3.2h-1zM467 153.4h1v1.6h-1zM468 133.0h1v2.0h-1zM468 133.6h1v1.4h-1zM468 153.4h1v2.0h-1zM469 153.4h1v1.9h-1zM471 153.4h1v2.4h-1zM471 153.4h1v1.4h-1zM472 133.0h1v2.0h-1zM472 153.4h1v2.3h-1zM473 153.4h1v1.2h-1zM474 133.2h1v1.8h-1zM474 153.4h1v2.5h-1zM475 134.2h1v0.8h-1zM475 153.4h1v0.6h-1zM476 133.8h1v1.2h-1zM476 153.4h1v2.0h-1zM477 132.5h1v2.5h-1zM478 134.4h1v0.6h-1zM479 134.1h1v0.9h-1zM479 153.4h1v1.7h-1zM480 133.6h1v1.4h-1zM480 153.4h1v1.4h-1zM481 133.9h1v1.1h-1zM481 153.4h1v2.9h-1zM483 134.4h1v0.6h-1zM484 133.3h1v1.7h-1zM484 153.4h1v0.7h-1zM485 133.8h1v1.2h-1zM485 153.4h1v1.1h-1zM487 133.7h1v1.3h-1zM487 153.4h1v1.3h-1zM487 153.4h1v0.8h-1zM488 153.4h1v2.1h-1zM488 153.4h1v1.5h-1zM489 133.5h1v1.5h-1zM489 134.2h1v0.8h-1zM489 153.4h1v2.2h-1zM490 133.7h1v1.3h-1zM491 132.4h1v2.6h-1zM491 133.7h1v1.3h-1zM491 153.4h1v0.7h-1zM492 153.4h1v2.9h-1zM493 133.6h1v1.4h-1zM493 153.4h1v1.6h-1zM493 153.4h1v1.7h-1zM494 153.4h1v3.1h-1zM495 153.4h1v1.6h-1zM497 153.4h1v1.4h-1zM499 134.0h1v1.0h-1zM500 134.2h1v0.8h-1zM501 133.8h1v1.2h-1zM502 153.4h1v1.7h-1zM503 132.6h1v2.4h-1zM504 134.4h1v0.6h-1zM504 153.4h1v2.9h-1zM504 153.4h1v0.7h-1zM505 134.5h1v0.5h-1zM505 153.4h1v2.1h-1zM505 153.4h1v1.0h-1zM506 153.4h1v1.9h-1zM507 133.5h1v1.5h-1zM508 153.4h1v1.6h-1zM509 153.4h1v0.5h-1zM511 153.4h1v0.9h-1zM511 153.4h1v1.5h-1zM512 134.3h1v0.7h-1zM513 133.3h1v1.7h-1zM513 134.2h1v0.8h-1zM514 133.7h1v1.3h-1zM514 153.4h1v2.4h-1zM515 134.2h1v0.8h-1zM515 133.8h1v1.2h-1zM517 134.2h1v0.8h-1zM517 153.4h1v1.0h-1zM517 153.4h1v1.2h-1zM518 134.4h1v0.6h-1zM519 134.1h1v0.9h-1zM519 134.5h1v0.5h-1zM520 133.8h1v1.2h-1zM520 153.4h1v1.0h-1zM521 133.1h1v1.9h-1z" fill="#0000ff" fill-opacity="0.5"/>
<polygon points="22,135.8 122.2,135.8 122.4,172.5 123.2,173.6 124.7,174 127.6,173 130,171.2 132.4,168.6 134.5,165.8 136.2,162.9 139.1,159.6 141,157.4 144,154.8 147.5,152.8 153.5,150.8 160,149.6 170,148.6 185,148.1 210,148 321,148 321.6,110 323,108.4 325.3,107.6 328,108.8 333,114.2 338.5,121.8 344.6,127.6 349,130.6 353.5,132.6 358,133.9 363,134.6 376,135 522,135 522,153.4 400,153.4 376,153.4 368,153.2 364,152.9 360,152.4 356,151.6 350.4,148.8 343.5,143.2 337.8,136.8 333.2,130.4 330,126.2 327.8,123.8 325.5,124.6 323,128.8 322.2,140 322,168 300,168 200,168 185,168.4 176,169 166,170 160,171 153.5,172.4 146.8,175.4 142,178.8 137.2,184 132.4,191 129.5,196.5 127.2,201.5 126,200 124,196 122.5,192 121,185 121,154.2 22,154.2" fill="#0000ff"/>
<path d="M22 343.0h1v1.6h-1zM23 343.7h1v0.9h-1zM23 353.0h1v1.7h-1zM26 353.0h1v1.2h-1zM34 353.0h1v1.8h-1zM35 343.7h1v0.9h-1zM37 343.2h1v1.4h-1zM38 344.0h1v0.6h-1zM39 343.6h1v1.0h-1zM39 353.0h1v1.1h-1zM40 353.0h1v1.0h-1zM42 343.4h1v1.2h-1zM43 343.5h1v1.1h-1zM43 353.0h1v2.1h-1zM46 343.9h1v0.7h-1zM47 353.0h1v2.4h-1zM48 343.9h1v0.7h-1zM50 343.3h1v1.3h-1zM50 353.0h1v2.0h-1zM52 353.0h1v1.5h-1zM53 353.0h1v1.7h-1zM54 343.5h1v1.1h-1zM57 344.0h1v0.6h-1zM63 353.0h1v1.7h-1zM65 343.4h1v1.2h-1zM67 353.0h1v2.3h-1zM69 343.1h1v1.5h-1zM73 343.6h1v1.0h-1zM73 353.0h1v1.8h-1zM76 353.0h1v1.5h-1zM78 353.0h1v1.5h-1zM81 353.0h1v1.7h-1zM84 353.0h1v2.2h-1zM87 353.0h1v1.5h-1zM88 353.0h1v1.1h-1zM89 343.2h1v1.4h-1zM94 343.9h1v0.7h-1zM96 353.0h1v2.4h-1zM97 343.6h1v1.0h-1zM100 343.6h1v1.0h-1zM101 343.4h1v1.2h-1zM102 353.0h1v1.5h-1zM104 344.0h1v0.6h-1zM104 353.0h1v1.2h-1zM105 353.0h1v1.6h-1zM108 343.9h1v0.7h-1zM110 353.0h1v1.1h-1zM111 353.0h1v1.0h-1zM113 343.2h1v1.4h-1zM114 353.0h1v2.1h-1zM115 344.0h1v0.6h-1zM116 343.8h1v0.8h-1zM117 343.0h1v1.6h-1zM118 343.5h1v1.1h-1zM120 353.0h1v1.1h-1zM123 326.0h1v1.9h-1zM124 316.7h1v0.9h-1zM124 326.0h1v2.1h-1zM126 326.0h1v1.0h-1zM128 316.2h1v1.4h-1zM128 326.0h1v2.3h-1zM134 326.0h1v1.2h-1zM136 326.0h1v1.9h-1zM140 326.0h1v2.2h-1zM142 326.0h1v1.3h-1zM143 316.4h1v1.2h-1zM145 316.4h1v1.2h-1zM146 316.8h1v0.8h-1zM148 326.0h1v1.1h-1zM149 326.0h1v1.6h-1zM151 316.6h1v1.0h-1zM160 316.8h1v0.8h-1zM162 316.6h1v1.0h-1zM163 326.0h1v1.8h-1zM165 326.0h1v0.9h-1zM166 326.0h1v1.1h-1zM168 316.5h1v1.1h-1zM169 316.3h1v1.3h-1zM170 316.3h1v1.3h-1zM171 316.6h1v1.0h-1zM174 316.7h1v0.9h-1zM174 326.0h1v1.7h-1zM176 316.8h1v0.8h-1zM177 316.4h1v1.2h-1zM177 326.0h1v0.8h-1zM185 326.0h1v1.7h-1zM186 316.9h1v0.7h-1zM187 316.5h1v1.1h-1zM187 326.0h1v2.0h-1zM188 316.3h1v1.3h-1zM190 326.0h1v1.3h-1zM191 326.0h1v1.1h-1zM192 326.0h1v0.8h-1zM193 316.8h1v0.8h-1zM193 326.0h1v2.1h-1zM195 326.0h1v2.4h-1zM199 326.0h1v1.6h-1zM202 316.8h1v0.8h-1zM202 326.0h1v2.1h-1zM204 326.0h1v1.9h-1zM206 316.6h1v1.0h-1zM209 316.2h1v1.4h-1zM211 326.0h1v1.0h-1zM212 326.0h1v1.2h-1zM214 316.4h1v1.2h-1zM215 316.5h1v1.1h-1zM216 326.0h1v1.8h-1zM217 316.8h1v0.8h-1zM217 326.0h1v2.2h-1zM218 316.4h1v1.2h-1zM219 316.7h1v0.9h-1zM224 316.6h1v1.0h-1zM224 326.0h1v1.5h-1zM225 326.0h1v2.0h-1zM226 326.0h1v2.0h-1zM228 326.0h1v2.2h-1zM229 326.0h1v2.3h-1zM232 317.0h1v0.6h-1zM232 326.0h1v1.3h-1zM233 316.2h1v1.4h-1zM236 316.9h1v0.7h-1zM237 326.0h1v2.2h-1zM239 316.2h1v1.4h-1zM239 326.0h1v1.2h-1zM240 326.0h1v1.7h-1zM243 316.1h1v1.5h-1zM244 326.0h1v1.6h-1zM246 316.2h1v1.4h-1zM246 326.0h1v1.3h-1zM248 326.0h1v1.7h-1zM249 326.0h1v0.9h-1zM251 316.4h1v1.2h-1zM256 326.0h1v1.3h-1zM259 326.0h1v2.3h-1zM262 316.4h1v1.2h-1zM262 326.0h1v1.2h-1zM263 326.0h1v1.4h-1zM265 316.8h1v0.8h-1zM268 316.7h1v0.9h-1zM269 316.2h1v1.4h-1zM271 326.0h1v1.8h-1zM272 316.1h1v1.5h-1zM272 326.0h1v1.2h-1zM273 316.4h1v1.2h-1zM274 316.9h1v0.7h-1zM275 326.0h1v1.5h-1zM279 316.4h1v1.2h-1zM281 326.0h1v2.4h-1zM283 326.0h1v2.0h-1zM284 316.1h1v1.5h-1zM286 326.0h1v1.1h-1zM288 326.0h1v1.7h-1zM289 316.7h1v0.9h-1zM290 316.7h1v0.9h-1zM290 326.0h1v1.5h-1zM293 316.5h1v1.1h-1zM293 326.0h1v1.9h-1zM296 316.4h1v1.2h-1zM296 326.0h1v1.1h-1zM298 326.0h1v1.3h-1zM299 316.8h1v0.8h-1zM299 326.0h1v1.2h-1zM300 326.0h1v1.3h-1zM301 316.7h1v0.9h-1zM301 326.0h1v2.4h-1zM302 316.0h1v1.6h-1zM304 326.0h1v1.6h-1zM308 326.0h1v1.1h-1zM310 316.4h1v1.2h-1zM310 326.0h1v1.3h-1zM311 316.6h1v1.0h-1zM312 326.0h1v2.0h-1zM313 326.0h1v1.3h-1zM314 316.5h1v1.1h-1zM316 326.0h1v2.1h-1zM319 316.3h1v1.3h-1zM321 316.1h1v1.5h-1zM321 342.0h1v1.6h-1zM323 343.2h1v1.2h-1zM323 352.8h1v1.3h-1zM324 352.8h1v1.0h-1zM325 343.8h1v0.6h-1zM326 343.2h1v1.2h-1zM327 352.8h1v1.8h-1zM335 343.2h1v1.2h-1zM337 352.8h1v1.9h-1zM341 343.5h1v0.9h-1zM343 352.8h1v1.5h-1zM344 352.8h1v1.7h-1zM345 343.3h1v1.1h-1zM345 352.8h1v1.0h-1zM346 343.5h1v0.9h-1zM346 352.8h1v2.0h-1zM347 343.1h1v1.3h-1zM349 343.6h1v0.8h-1zM351 343.0h1v1.4h-1zM353 343.8h1v0.6h-1zM355 352.8h1v1.1h-1zM357 342.9h1v1.5h-1zM361 352.8h1v1.1h-1zM364 342.8h1v1.6h-1zM365 352.8h1v1.4h-1zM366 352.8h1v0.9h-1zM367 352.8h1v1.4h-1zM368 343.5h1v0.9h-1zM368 352.8h1v1.1h-1zM369 352.8h1v1.5h-1zM370 343.4h1v1.0h-1zM370 352.8h1v2.1h-1zM372 352.8h1v1.7h-1zM373 343.0h1v1.4h-1zM377 343.4h1v1.0h-1zM378 352.8h1v1.3h-1zM379 343.3h1v1.1h-1zM379 352.8h1v2.0h-1zM380 352.8h1v1.5h-1zM383 342.8h1v1.6h-1zM383 352.8h1v1.6h-1zM384 343.5h1v0.9h-1zM385 352.8h1v1.1h-1zM387 343.0h1v1.4h-1zM388 352.8h1v2.1h-1zM391 352.8h1v2.2h-1zM392 343.5h1v0.9h-1zM393 343.8h1v0.6h-1zM394 352.8h1v1.0h-1zM395 343.6h1v0.8h-1zM396 343.2h1v1.2h-1zM397 343.2h1v1.2h-1zM397 352.8h1v1.8h-1zM399 343.3h1v1.1h-1zM400 342.9h1v1.5h-1zM400 352.8h1v1.8h-1zM401 352.8h1v2.0h-1zM402 352.8h1v1.5h-1zM406 342.9h1v1.5h-1zM407 343.3h1v1.1h-1zM407 352.8h1v1.1h-1zM409 352.8h1v2.1h-1zM414 352.8h1v1.7h-1zM418 352.8h1v1.0h-1zM422 343.3h1v1.1h-1zM422 352.8h1v1.3h-1zM427 352.8h1v1.9h-1zM428 352.8h1v1.7h-1zM429 342.9h1v1.5h-1zM430 342.8h1v1.6h-1zM431 352.8h1v2.0h-1zM434 343.2h1v1.2h-1zM435 343.2h1v1.2h-1zM436 343.4h1v1.0h-1zM437 343.2h1v1.2h-1zM438 343.5h1v0.9h-1zM439 343.0h1v1.4h-1zM440 342.9h1v1.5h-1zM440 352.8h1v2.0h-1zM441 343.4h1v1.0h-1zM442 343.8h1v0.6h-1zM445 343.1h1v1.3h-1zM446 352.8h1v1.6h-1zM450 343.4h1v1.0h-1zM450 352.8h1v2.1h-1zM451 343.0h1v1.4h-1zM454 343.7h1v0.7h-1zM455 343.7h1v0.7h-1zM455 352.8h1v1.0h-1zM457 343.4h1v1.0h-1zM459 343.4h1v1.0h-1zM460 343.5h1v0.9h-1zM460 352.8h1v2.1h-1zM461 352.8h1v1.1h-1zM462 343.4h1v1.0h-1zM463 343.5h1v0.9h-1zM463 352.8h1v1.3h-1zM464 343.7h1v0.7h-1zM466 343.0h1v1.4h-1zM466 352.8h1v1.4h-1zM468 343.1h1v1.3h-1zM470 343.1h1v1.3h-1zM472 342.9h1v1.5h-1zM472 352.8h1v2.0h-1zM474 342.8h1v1.6h-1zM474 352.8h1v2.3h-1zM476 343.8h1v0.6h-1zM477 343.7h1v0.7h-1zM479 342.8h1v1.6h-1zM480 343.6h1v0.8h-1zM484 343.6h1v0.8h-1zM487 343.1h1v1.3h-1zM489 343.3h1v1.1h-1zM489 352.8h1v2.0h-1zM491 343.3h1v1.1h-1zM493 343.8h1v0.6h-1zM495 352.8h1v1.6h-1zM496 343.1h1v1.3h-1zM497 343.4h1v1.0h-1zM497 352.8h1v1.1h-1zM499 352.8h1v1.0h-1zM500 352.8h1v1.4h-1zM502 352.8h1v1.8h-1zM503 343.0h1v1.4h-1zM503 352.8h1v1.3h-1zM504 343.3h1v1.1h-1zM505 343.2h1v1.2h-1zM506 343.1h1v1.3h-1zM506 352.8h1v0.9h-1zM507 343.3h1v1.1h-1zM507 352.8h1v1.2h-1zM508 343.0h1v1.4h-1zM509 342.9h1v1.5h-1zM510 352.8h1v1.6h-1zM513 343.8h1v0.6h-1zM513 352.8h1v2.1h-1zM514 343.0h1v1.4h-1zM516 343.3h1v1.1h-1zM517 352.8h1v1.2h-1zM519 352.8h1v2.2h-1zM520 342.9h1v1.5h-1zM520 352.8h1v2.0h-1z" fill="#00ff00" fill-opacity="0.15"/><path d="M24 353.0h1v1.6h-1zM25 343.6h1v1.0h-1zM25 353.0h1v2.2h-1zM27 353.0h1v1.1h-1zM28 343.3h1v1.3h-1zM28 353.0h1v1.4h-1zM29 343.3h1v1.3h-1zM29 353.0h1v1.2h-1zM30 343.5h1v1.1h-1zM30 353.0h1v1.5h-1zM31 343.4h1v1.2h-1zM33 353.0h1v1.7h-1zM34 343.5h1v1.1h-1zM37 353.0h1v0.9h-1zM41 353.0h1v0.8h-1zM44 353.0h1v1.6h-1zM46 353.0h1v1.1h-1zM49 343.7h1v0.9h-1zM49 353.0h1v1.0h-1zM51 343.5h1v1.1h-1zM53 343.9h1v0.7h-1zM55 343.1h1v1.5h-1zM55 353.0h1v1.0h-1zM56 343.2h1v1.4h-1zM57 353.0h1v0.9h-1zM58 343.6h1v1.0h-1zM58 353.0h1v2.2h-1zM60 353.0h1v1.3h-1zM61 343.5h1v1.1h-1zM61 353.0h1v2.0h-1zM62 343.2h1v1.4h-1zM64 343.9h1v0.7h-1zM66 343.3h1v1.3h-1zM66 353.0h1v1.0h-1zM67 343.3h1v1.3h-1zM69 353.0h1v1.2h-1zM72 343.1h1v1.5h-1zM75 343.4h1v1.2h-1zM77 343.2h1v1.4h-1zM78 343.1h1v1.5h-1zM79 343.7h1v0.9h-1zM80 343.6h1v1.0h-1zM80 353.0h1v1.0h-1zM81 343.0h1v1.6h-1zM82 353.0h1v1.9h-1zM85 343.4h1v1.2h-1zM86 343.9h1v0.7h-1zM86 353.0h1v1.1h-1zM87 343.8h1v0.8h-1zM91 343.3h1v1.3h-1zM92 353.0h1v1.9h-1zM93 343.7h1v0.9h-1zM93 353.0h1v2.3h-1zM96 343.8h1v0.8h-1zM98 353.0h1v2.2h-1zM100 353.0h1v1.8h-1zM101 353.0h1v1.7h-1zM102 343.2h1v1.4h-1zM103 353.0h1v1.1h-1zM107 353.0h1v1.2h-1zM111 343.6h1v1.0h-1zM112 343.2h1v1.4h-1zM116 353.0h1v2.2h-1zM117 353.0h1v1.9h-1zM118 353.0h1v2.0h-1zM119 353.0h1v1.1h-1zM121 316.2h1v1.4h-1zM121 353.0h1v2.4h-1zM122 316.8h1v0.8h-1zM122 326.0h1v2.2h-1zM123 316.4h1v1.2h-1zM125 316.8h1v0.8h-1zM129 326.0h1v1.4h-1zM130 326.0h1v2.0h-1zM131 316.6h1v1.0h-1zM133 316.7h1v0.9h-1zM133 326.0h1v1.6h-1zM135 316.9h1v0.7h-1zM135 326.0h1v1.0h-1zM137 326.0h1v1.7h-1zM138 316.9h1v0.7h-1zM139 326.0h1v0.8h-1zM141 316.5h1v1.1h-1zM142 316.0h1v1.6h-1zM145 326.0h1v1.6h-1zM148 316.0h1v1.6h-1zM149 316.4h1v1.2h-1zM152 316.5h1v1.1h-1zM153 316.8h1v0.8h-1zM153 326.0h1v2.0h-1zM154 326.0h1v1.4h-1zM155 316.4h1v1.2h-1zM155 326.0h1v2.1h-1zM158 316.6h1v1.0h-1zM159 316.0h1v1.6h-1zM159 326.0h1v1.9h-1zM161 316.3h1v1.3h-1zM161 326.0h1v1.6h-1zM162 326.0h1v1.4h-1zM163 316.9h1v0.7h-1zM164 326.0h1v1.3h-1zM166 316.8h1v0.8h-1zM167 326.0h1v1.2h-1zM172 316.9h1v0.7h-1zM172 326.0h1v2.2h-1zM173 316.4h1v1.2h-1zM175 316.4h1v1.2h-1zM176 326.0h1v1.4h-1zM178 326.0h1v1.4h-1zM179 326.0h1v2.0h-1zM182 316.1h1v1.5h-1zM182 326.0h1v1.9h-1zM184 316.8h1v0.8h-1zM185 316.3h1v1.3h-1zM189 316.3h1v1.3h-1zM189 326.0h1v1.4h-1zM190 316.2h1v1.4h-1zM192 316.4h1v1.2h-1zM194 326.0h1v2.1h-1zM195 316.5h1v1.1h-1zM198 316.5h1v1.1h-1zM200 316.7h1v0.9h-1zM201 316.4h1v1.2h-1zM204 316.4h1v1.2h-1zM205 316.8h1v0.8h-1zM207 326.0h1v1.2h-1zM208 316.5h1v1.1h-1zM210 326.0h1v2.0h-1zM213 317.0h1v0.6h-1zM219 326.0h1v1.3h-1zM220 326.0h1v0.9h-1zM223 316.4h1v1.2h-1zM225 316.5h1v1.1h-1zM226 316.9h1v0.7h-1zM227 317.0h1v0.6h-1zM231 326.0h1v2.4h-1zM233 326.0h1v1.5h-1zM234 316.0h1v1.6h-1zM234 326.0h1v1.0h-1zM235 316.8h1v0.8h-1zM235 326.0h1v1.8h-1zM238 316.2h1v1.4h-1zM238 326.0h1v1.3h-1zM242 316.8h1v0.8h-1zM243 326.0h1v1.8h-1zM245 326.0h1v1.1h-1zM248 316.7h1v0.9h-1zM249 316.4h1v1.2h-1zM250 317.0h1v0.6h-1zM251 326.0h1v1.2h-1zM252 316.7h1v0.9h-1zM252 326.0h1v1.9h-1zM254 316.9h1v0.7h-1zM254 326.0h1v1.7h-1zM255 316.0h1v1.6h-1zM255 326.0h1v1.8h-1zM257 326.0h1v1.2h-1zM259 316.5h1v1.1h-1zM260 326.0h1v2.0h-1zM261 316.7h1v0.9h-1zM263 317.0h1v0.6h-1zM264 326.0h1v1.2h-1zM267 316.7h1v0.9h-1zM267 326.0h1v1.9h-1zM268 326.0h1v1.7h-1zM269 326.0h1v2.2h-1zM270 316.8h1v0.8h-1zM270 326.0h1v2.4h-1zM271 316.1h1v1.5h-1zM273 326.0h1v1.6h-1zM274 326.0h1v1.6h-1zM275 316.5h1v1.1h-1zM276 316.2h1v1.4h-1zM277 316.1h1v1.5h-1zM278 316.8h1v0.8h-1zM281 316.3h1v1.3h-1zM282 316.7h1v0.9h-1zM282 326.0h1v1.3h-1zM284 326.0h1v1.5h-1zM285 316.9h1v0.7h-1zM285 326.0h1v1.1h-1zM286 316.8h1v0.8h-1zM287 326.0h1v1.6h-1zM292 316.3h1v1.3h-1zM297 326.0h1v1.1h-1zM304 316.8h1v0.8h-1zM305 326.0h1v1.0h-1zM306 316.4h1v1.2h-1zM306 326.0h1v1.8h-1zM307 316.1h1v1.5h-1zM307 326.0h1v0.8h-1zM308 316.7h1v0.9h-1zM312 316.6h1v1.0h-1zM313 316.4h1v1.2h-1zM314 326.0h1v1.8h-1zM316 316.7h1v0.9h-1zM317 326.0h1v1.4h-1zM318 316.7h1v0.9h-1zM320 316.1h1v1.5h-1zM324 343.3h1v1.1h-1zM325 352.8h1v1.6h-1zM326 352.8h1v1.4h-1zM328 343.2h1v1.2h-1zM328 352.8h1v2.0h-1zM329 343.2h1v1.2h-1zM329 352.8h1v1.7h-1zM330 352.8h1v2.2h-1zM331 352.8h1v1.4h-1zM333 352.8h1v2.1h-1zM335 352.8h1v2.4h-1zM336 343.5h1v0.9h-1zM336 352.8h1v1.3h-1zM339 343.7h1v0.7h-1zM340 343.1h1v1.3h-1zM340 352.8h1v2.0h-1zM341 352.8h1v2.0h-1zM342 343.1h1v1.3h-1zM348 352.8h1v1.8h-1zM350 343.3h1v1.1h-1zM350 352.8h1v1.1h-1zM353 352.8h1v1.5h-1zM355 343.6h1v0.8h-1zM356 343.1h1v1.3h-1zM357 352.8h1v0.8h-1zM359 343.4h1v1.0h-1zM359 352.8h1v2.2h-1zM363 343.1h1v1.3h-1zM363 352.8h1v1.1h-1zM364 352.8h1v1.4h-1zM365 343.0h1v1.4h-1zM367 343.7h1v0.7h-1zM371 343.5h1v0.9h-1zM372 342.9h1v1.5h-1zM373 352.8h1v1.1h-1zM375 343.0h1v1.4h-1zM377 352.8h1v2.3h-1zM381 343.3h1v1.1h-1zM382 352.8h1v2.1h-1zM384 352.8h1v0.9h-1zM386 343.2h1v1.2h-1zM387 352.8h1v1.7h-1zM392 352.8h1v1.1h-1zM393 352.8h1v1.1h-1zM396 352.8h1v0.8h-1zM398 342.9h1v1.5h-1zM401 343.5h1v0.9h-1zM402 343.6h1v0.8h-1zM403 343.3h1v1.1h-1zM405 342.8h1v1.6h-1zM405 352.8h1v1.4h-1zM406 352.8h1v0.8h-1zM410 343.8h1v0.6h-1zM410 352.8h1v1.4h-1zM411 352.8h1v1.7h-1zM412 352.8h1v2.2h-1zM413 343.5h1v0.9h-1zM414 343.7h1v0.7h-1zM415 352.8h1v1.7h-1zM416 343.2h1v1.2h-1zM418 343.3h1v1.1h-1zM419 342.9h1v1.5h-1zM419 352.8h1v1.9h-1zM421 342.9h1v1.5h-1zM421 352.8h1v1.0h-1zM425 343.4h1v1.0h-1zM425 352.8h1v1.2h-1zM426 352.8h1v1.6h-1zM430 352.8h1v1.4h-1zM431 343.0h1v1.4h-1zM432 352.8h1v1.0h-1zM434 352.8h1v1.8h-1zM435 352.8h1v1.8h-1zM444 352.8h1v0.9h-1zM445 352.8h1v1.4h-1zM446 343.5h1v0.9h-1zM448 343.2h1v1.2h-1zM448 352.8h1v1.9h-1zM449 352.8h1v1.0h-1zM452 352.8h1v1.2h-1zM453 352.8h1v1.5h-1zM456 352.8h1v1.7h-1zM458 343.3h1v1.1h-1zM458 352.8h1v1.2h-1zM461 342.9h1v1.5h-1zM464 352.8h1v1.5h-1zM465 343.1h1v1.3h-1zM465 352.8h1v2.0h-1zM467 352.8h1v1.5h-1zM468 352.8h1v1.1h-1zM469 352.8h1v0.8h-1zM471 342.9h1v1.5h-1zM473 343.8h1v0.6h-1zM478 352.8h1v2.3h-1zM479 352.8h1v1.2h-1zM482 343.7h1v0.7h-1zM482 352.8h1v1.4h-1zM483 343.0h1v1.4h-1zM484 352.8h1v1.8h-1zM485 343.6h1v0.8h-1zM485 352.8h1v2.1h-1zM486 352.8h1v2.3h-1zM488 343.8h1v0.6h-1zM490 352.8h1v1.8h-1zM491 352.8h1v1.2h-1zM492 352.8h1v1.4h-1zM498 342.8h1v1.6h-1zM504 352.8h1v1.4h-1zM508 352.8h1v2.1h-1zM509 352.8h1v1.4h-1zM511 343.2h1v1.2h-1zM511 352.8h1v2.4h-1zM512 342.9h1v1.5h-1zM515 343.3h1v1.1h-1zM515 352.8h1v1.9h-1zM518 343.8h1v0.6h-1zM521 343.7h1v0.7h-1zM521 352.8h1v0.9h-1z" fill="#00ff00" fill-opacity="0.3"/><path d="M22 343.9h1v0.7h-1zM22 353.0h1v1.1h-1zM24 343.4h1v1.2h-1zM25 353.0h1v0.8h-1zM26 343.6h1v1.0h-1zM26 344.0h1v0.6h-1zM26 353.0h1v0.6h-1zM27 343.5h1v1.1h-1zM28 353.0h1v1.2h-1zM30 353.0h1v1.2h-1zM31 344.0h1v0.6h-1zM31 353.0h1v1.3h-1zM32 343.1h1v1.5h-1zM32 343.7h1v0.9h-1zM32 353.0h1v1.3h-1zM33 343.4h1v1.2h-1zM35 353.0h1v1.1h-1zM35 353.0h1v1.0h-1zM36 344.0h1v0.6h-1zM36 343.7h1v0.9h-1zM36 353.0h1v1.0h-1zM36 353.0h1v0.7h-1zM37 343.8h1v0.8h-1zM37 353.0h1v0.7h-1zM38 353.0h1v0.8h-1zM40 344.0h1v0.6h-1zM40 343.6h1v1.0h-1zM40 353.0h1v1.4h-1zM41 343.4h1v1.2h-1zM41 343.9h1v0.7h-1zM42 353.0h1v2.0h-1zM43 343.8h1v0.8h-1zM43 353.0h1v1.3h-1zM44 343.9h1v0.7h-1zM44 353.0h1v1.4h-1zM45 343.7h1v0.9h-1zM45 353.0h1v1.8h-1zM46 344.0h1v0.6h-1zM47 343.5h1v1.1h-1zM48 353.0h1v1.8h-1zM49 343.8h1v0.8h-1zM49 353.0h1v0.6h-1zM50 344.1h1v0.5h-1zM50 353.0h1v1.0h-1zM51 353.0h1v1.4h-1zM52 343.0h1v1.6h-1zM54 353.0h1v2.3h-1zM54 353.0h1v1.1h-1zM55 343.8h1v0.8h-1zM55 353.0h1v1.2h-1zM56 343.8h1v0.8h-1zM56 353.0h1v1.5h-1zM57 343.7h1v0.9h-1zM57 353.0h1v1.0h-1zM58 343.9h1v0.7h-1zM58 353.0h1v0.6h-1zM59 343.1h1v1.5h-1zM59 344.0h1v0.6h-1zM59 353.0h1v1.0h-1zM60 343.2h1v1.4h-1zM60 353.0h1v0.9h-1zM62 344.0h1v0.6h-1zM62 353.0h1v1.8h-1zM62 353.0h1v1.1h-1zM63 343.1h1v1.5h-1zM63 353.0h1v1.4h-1zM64 353.0h1v2.1h-1zM65 353.0h1v1.4h-1zM66 344.0h1v0.6h-1zM66 353.0h1v1.0h-1zM67 344.0h1v0.6h-1zM67 353.0h1v1.4h-1zM68 343.2h1v1.4h-1zM68 353.0h1v1.5h-1zM68 353.0h1v1.1h-1zM69 344.1h1v0.5h-1zM70 343.1h1v1.5h-1zM70 353.0h1v1.4h-1zM70 353.0h1v1.2h-1zM71 343.3h1v1.3h-1zM71 343.8h1v0.8h-1zM71 353.0h1v1.4h-1zM71 353.0h1v1.3h-1zM72 343.8h1v0.8h-1zM72 353.0h1v2.2h-1zM72 353.0h1v0.6h-1zM74 343.9h1v0.7h-1zM74 353.0h1v1.1h-1zM75 353.0h1v1.0h-1zM76 343.5h1v1.1h-1zM77 343.9h1v0.7h-1zM77 353.0h1v2.1h-1zM77 353.0h1v1.1h-1zM78 343.7h1v0.9h-1zM79 343.8h1v0.8h-1zM79 353.0h1v2.1h-1zM79 353.0h1v0.7h-1zM81 343.7h1v0.9h-1zM82 343.7h1v0.9h-1zM82 343.8h1v0.8h-1zM82 353.0h1v1.3h-1zM83 343.7h1v0.9h-1zM83 353.0h1v1.3h-1zM83 353.0h1v1.3h-1zM84 343.9h1v0.7h-1zM84 343.8h1v0.8h-1zM85 343.7h1v0.9h-1zM85 353.0h1v1.7h-1zM85 353.0h1v1.4h-1zM86 353.0h1v0.9h-1zM88 343.6h1v1.0h-1zM88 344.0h1v0.6h-1zM88 353.0h1v1.2h-1zM89 343.7h1v0.9h-1zM89 353.0h1v1.2h-1zM90 343.6h1v1.0h-1zM90 343.7h1v0.9h-1zM90 353.0h1v2.3h-1zM91 353.0h1v2.0h-1zM92 343.2h1v1.4h-1zM92 343.8h1v0.8h-1zM92 353.0h1v1.0h-1zM93 344.1h1v0.5h-1zM94 344.0h1v0.6h-1zM94 353.0h1v0.9h-1zM95 343.6h1v1.0h-1zM95 343.7h1v0.9h-1zM95 353.0h1v1.8h-1zM95 353.0h1v1.1h-1zM96 343.9h1v0.7h-1zM96 353.0h1v0.6h-1zM97 344.0h1v0.6h-1zM97 353.0h1v1.2h-1zM97 353.0h1v1.4h-1zM98 343.4h1v1.2h-1zM98 344.0h1v0.6h-1zM98 353.0h1v0.8h-1zM99 343.7h1v0.9h-1zM99 353.0h1v1.3h-1zM100 343.9h1v0.7h-1zM102 343.9h1v0.7h-1zM102 353.0h1v1.1h-1zM103 343.9h1v0.7h-1zM103 353.0h1v1.3h-1zM104 353.0h1v1.1h-1zM105 343.9h1v0.7h-1zM105 343.7h1v0.9h-1zM105 353.0h1v1.0h-1zM106 343.9h1v0.7h-1zM106 353.0h1v0.9h-1zM107 343.2h1v1.4h-1zM107 343.9h1v0.7h-1zM107 353.0h1v0.6h-1zM108 343.7h1v0.9h-1zM108 353.0h1v1.8h-1zM108 353.0h1v1.1h-1zM109 343.1h1v1.5h-1zM109 353.0h1v2.0h-1zM109 353.0h1v0.6h-1zM110 343.2h1v1.4h-1zM110 353.0h1v0.9h-1zM111 344.0h1v0.6h-1zM111 353.0h1v0.8h-1zM112 343.8h1v0.8h-1zM112 353.0h1v1.9h-1zM112 353.0h1v1.1h-1zM113 343.8h1v0.8h-1zM113 353.0h1v1.8h-1zM113 353.0h1v0.7h-1zM114 343.3h1v1.3h-1zM114 343.7h1v0.9h-1zM115 353.0h1v1.0h-1zM118 343.9h1v0.7h-1zM118 353.0h1v1.3h-1zM119 343.4h1v1.2h-1zM119 343.7h1v0.9h-1zM119 353.0h1v1.2h-1zM120 343.4h1v1.2h-1zM121 353.0h1v0.7h-1zM122 316.8h1v0.8h-1zM122 326.0h1v0.7h-1zM123 316.8h1v0.8h-1zM124 326.0h1v1.3h-1zM125 316.9h1v0.7h-1zM125 326.0h1v2.1h-1zM125 326.0h1v0.9h-1zM126 316.6h1v1.0h-1zM126 316.8h1v0.8h-1zM126 326.0h1v1.2h-1zM127 316.3h1v1.3h-1zM127 326.0h1v2.3h-1zM127 326.0h1v1.0h-1zM128 317.0h1v0.6h-1zM128 326.0h1v1.2h-1zM129 316.1h1v1.5h-1zM129 326.0h1v0.7h-1zM130 316.9h1v0.7h-1zM130 316.7h1v0.9h-1zM130 326.0h1v0.9h-1zM131 317.0h1v0.6h-1zM131 326.0h1v0.9h-1zM132 316.9h1v0.7h-1zM132 326.0h1v0.9h-1zM132 326.0h1v0.7h-1zM134 316.3h1v1.3h-1zM134 326.0h1v0.6h-1zM135 317.1h1v0.5h-1zM136 316.9h1v0.7h-1zM136 326.0h1v0.6h-1zM137 316.7h1v0.9h-1zM137 317.1h1v0.5h-1zM138 316.7h1v0.9h-1zM138 326.0h1v1.4h-1zM138 326.0h1v0.9h-1zM139 316.7h1v0.9h-1zM139 326.0h1v1.1h-1zM140 316.7h1v0.9h-1zM141 317.0h1v0.6h-1zM141 326.0h1v1.1h-1zM141 326.0h1v1.1h-1zM143 316.7h1v0.9h-1zM143 326.0h1v1.0h-1zM144 316.8h1v0.8h-1zM144 317.1h1v0.5h-1zM144 326.0h1v1.4h-1zM145 316.9h1v0.7h-1zM145 326.0h1v1.2h-1zM146 316.9h1v0.7h-1zM146 326.0h1v2.4h-1zM146 326.0h1v1.3h-1zM147 316.1h1v1.5h-1zM147 326.0h1v2.1h-1zM147 326.0h1v1.0h-1zM148 317.0h1v0.6h-1zM149 326.0h1v0.8h-1zM150 316.8h1v0.8h-1zM150 326.0h1v2.1h-1zM151 326.0h1v1.7h-1zM151 326.0h1v0.8h-1zM152 316.7h1v0.9h-1zM152 326.0h1v1.5h-1zM152 326.0h1v1.3h-1zM153 326.0h1v1.1h-1zM154 316.8h1v0.8h-1zM155 316.8h1v0.8h-1zM156 316.2h1v1.4h-1zM156 326.0h1v2.3h-1zM156 326.0h1v0.6h-1zM157 316.3h1v1.3h-1zM157 316.9h1v0.7h-1zM157 326.0h1v1.9h-1zM158 326.0h1v1.4h-1zM160 316.7h1v0.9h-1zM160 326.0h1v1.4h-1zM160 326.0h1v0.9h-1zM161 326.0h1v1.4h-1zM162 326.0h1v1.2h-1zM163 316.8h1v0.8h-1zM164 316.4h1v1.2h-1zM164 316.8h1v0.8h-1zM164 326.0h1v1.3h-1zM165 316.4h1v1.2h-1zM165 316.7h1v0.9h-1zM167 316.4h1v1.2h-1zM167 316.8h1v0.8h-1zM168 316.7h1v0.9h-1zM168 326.0h1v2.0h-1zM168 326.0h1v0.7h-1zM169 326.0h1v1.8h-1zM169 326.0h1v0.7h-1zM170 326.0h1v1.5h-1zM170 326.0h1v0.7h-1zM171 316.7h1v0.9h-1zM171 326.0h1v1.3h-1zM171 326.0h1v0.9h-1zM172 316.7h1v0.9h-1zM173 316.9h1v0.7h-1zM173 326.0h1v0.9h-1zM174 326.0h1v0.6h-1zM175 326.0h1v2.2h-1zM175 326.0h1v1.2h-1zM177 316.7h1v0.9h-1zM177 326.0h1v0.9h-1zM178 316.9h1v0.7h-1zM179 316.8h1v0.8h-1zM180 316.3h1v1.3h-1zM180 326.0h1v1.0h-1zM180 326.0h1v0.9h-1zM181 316.6h1v1.0h-1zM181 317.1h1v0.5h-1zM181 326.0h1v1.8h-1zM181 326.0h1v1.3h-1zM183 316.3h1v1.3h-1zM183 316.6h1v1.0h-1zM183 326.0h1v1.2h-1zM184 326.0h1v2.2h-1zM184 326.0h1v0.9h-1zM185 316.9h1v0.7h-1zM186 316.7h1v0.9h-1zM186 326.0h1v1.0h-1zM186 326.0h1v0.8h-1zM187 316.7h1v0.9h-1zM187 326.0h1v1.4h-1zM188 326.0h1v1.3h-1zM188 326.0h1v1.1h-1zM189 317.0h1v0.6h-1zM189 326.0h1v0.6h-1zM190 326.0h1v0.7h-1zM191 316.9h1v0.7h-1zM192 317.0h1v0.6h-1zM193 316.7h1v0.9h-1zM193 326.0h1v1.3h-1zM194 316.2h1v1.4h-1zM194 316.9h1v0.7h-1zM196 316.6h1v1.0h-1zM196 316.9h1v0.7h-1zM196 326.0h1v1.9h-1zM196 326.0h1v0.5h-1zM197 316.1h1v1.5h-1zM197 317.1h1v0.5h-1zM197 326.0h1v2.1h-1zM198 317.0h1v0.6h-1zM198 326.0h1v2.1h-1zM198 326.0h1v0.7h-1zM199 316.9h1v0.7h-1zM200 316.9h1v0.7h-1zM200 326.0h1v2.0h-1zM200 326.0h1v1.3h-1zM201 326.0h1v2.2h-1zM203 316.2h1v1.4h-1zM203 326.0h1v1.7h-1zM203 326.0h1v0.5h-1zM205 326.0h1v2.0h-1zM205 326.0h1v0.8h-1zM206 316.7h1v0.9h-1zM206 326.0h1v1.5h-1zM207 316.7h1v0.9h-1zM207 316.9h1v0.7h-1zM208 326.0h1v1.3h-1zM209 316.7h1v0.9h-1zM209 326.0h1v2.3h-1zM209 326.0h1v0.5h-1zM210 316.8h1v0.8h-1zM210 326.0h1v1.1h-1zM211 316.2h1v1.4h-1zM211 326.0h1v0.5h-1zM212 316.5h1v1.1h-1zM212 317.1h1v0.5h-1zM213 326.0h1v1.0h-1zM214 317.0h1v0.6h-1zM214 326.0h1v2.2h-1zM215 326.0h1v1.0h-1zM215 326.0h1v0.7h-1zM216 316.3h1v1.3h-1zM216 326.0h1v0.6h-1zM217 316.8h1v0.8h-1zM218 326.0h1v1.4h-1zM218 326.0h1v0.7h-1zM219 316.6h1v1.0h-1zM219 326.0h1v1.2h-1zM220 316.0h1v1.6h-1zM220 317.0h1v0.6h-1zM221 316.9h1v0.7h-1zM221 316.7h1v0.9h-1zM221 326.0h1v1.8h-1zM221 326.0h1v1.1h-1zM222 316.9h1v0.7h-1zM222 316.8h1v0.8h-1zM222 326.0h1v2.3h-1zM222 326.0h1v0.9h-1zM223 316.9h1v0.7h-1zM223 326.0h1v1.6h-1zM224 316.9h1v0.7h-1zM225 326.0h1v0.7h-1zM226 326.0h1v0.6h-1zM227 316.8h1v0.8h-1zM227 326.0h1v1.7h-1zM228 317.0h1v0.6h-1zM228 317.0h1v0.6h-1zM229 316.9h1v0.7h-1zM229 316.7h1v0.9h-1zM230 316.2h1v1.4h-1zM230 316.8h1v0.8h-1zM230 326.0h1v0.9h-1zM231 316.1h1v1.5h-1zM231 316.8h1v0.8h-1zM231 326.0h1v1.3h-1zM232 326.0h1v1.2h-1zM233 317.0h1v0.6h-1zM234 326.0h1v1.1h-1zM235 316.9h1v0.7h-1zM236 316.8h1v0.8h-1zM236 326.0h1v1.9h-1zM237 316.8h1v0.8h-1zM237 316.8h1v0.8h-1zM238 316.9h1v0.7h-1zM240 316.7h1v0.9h-1zM240 316.7h1v0.9h-1zM241 316.9h1v0.7h-1zM241 316.7h1v0.9h-1zM241 326.0h1v0.9h-1zM241 326.0h1v1.2h-1zM242 326.0h1v1.9h-1zM242 326.0h1v1.0h-1zM243 317.0h1v0.6h-1zM243 326.0h1v0.7h-1zM244 316.2h1v1.4h-1zM244 316.9h1v0.7h-1zM244 326.0h1v0.9h-1zM245 316.5h1v1.1h-1zM245 326.0h1v0.9h-1zM247 316.1h1v1.5h-1zM247 316.9h1v0.7h-1zM247 326.0h1v2.1h-1zM248 316.8h1v0.8h-1zM248 326.0h1v0.7h-1zM250 316.7h1v0.9h-1zM250 326.0h1v1.6h-1zM250 326.0h1v0.5h-1zM251 316.9h1v0.7h-1zM253 316.8h1v0.8h-1zM253 316.7h1v0.9h-1zM253 326.0h1v2.0h-1zM254 316.9h1v0.7h-1zM255 316.6h1v1.0h-1zM255 326.0h1v1.4h-1zM256 316.9h1v0.7h-1zM256 316.7h1v0.9h-1zM256 326.0h1v1.2h-1zM257 316.8h1v0.8h-1zM258 316.1h1v1.5h-1zM258 316.8h1v0.8h-1zM258 326.0h1v1.6h-1zM259 317.1h1v0.5h-1zM259 326.0h1v0.9h-1zM260 316.2h1v1.4h-1zM260 326.0h1v1.3h-1zM261 316.9h1v0.7h-1zM261 326.0h1v1.7h-1zM261 326.0h1v1.2h-1zM262 316.7h1v0.9h-1zM262 326.0h1v1.4h-1zM264 316.6h1v1.0h-1zM264 316.9h1v0.7h-1zM264 326.0h1v0.8h-1zM265 316.7h1v0.9h-1zM265 326.0h1v1.7h-1zM266 316.1h1v1.5h-1zM266 317.1h1v0.5h-1zM266 326.0h1v1.2h-1zM266 326.0h1v0.8h-1zM268 317.0h1v0.6h-1zM268 326.0h1v1.2h-1zM269 317.0h1v0.6h-1zM270 326.0h1v1.0h-1zM271 316.7h1v0.9h-1zM271 326.0h1v1.3h-1zM272 316.7h1v0.9h-1zM274 317.0h1v0.6h-1zM274 326.0h1v1.2h-1zM276 316.7h1v0.9h-1zM276 326.0h1v1.8h-1zM276 326.0h1v0.9h-1zM277 326.0h1v1.9h-1zM278 326.0h1v1.9h-1zM279 326.0h1v1.5h-1zM279 326.0h1v0.8h-1zM280 316.9h1v0.7h-1zM280 316.8h1v0.8h-1zM280 326.0h1v1.2h-1zM280 326.0h1v1.1h-1zM281 316.8h1v0.8h-1zM282 316.8h1v0.8h-1zM282 326.0h1v1.0h-1zM283 316.4h1v1.2h-1zM283 326.0h1v1.2h-1zM284 326.0h1v0.8h-1zM285 316.8h1v0.8h-1zM285 326.0h1v1.0h-1zM287 316.9h1v0.7h-1zM287 316.9h1v0.7h-1zM288 316.6h1v1.0h-1zM288 326.0h1v1.0h-1zM289 317.0h1v0.6h-1zM289 326.0h1v2.0h-1zM289 326.0h1v0.6h-1zM290 316.8h1v0.8h-1zM291 316.7h1v0.9h-1zM291 317.0h1v0.6h-1zM291 326.0h1v1.6h-1zM291 326.0h1v0.9h-1zM292 326.0h1v2.4h-1zM292 326.0h1v1.0h-1zM294 316.6h1v1.0h-1zM294 326.0h1v1.8h-1zM295 316.3h1v1.3h-1zM295 316.7h1v0.9h-1zM295 326.0h1v1.5h-1zM295 326.0h1v1.2h-1zM296 326.0h1v0.5h-1zM297 316.9h1v0.7h-1zM297 326.0h1v0.5h-1zM298 316.6h1v1.0h-1zM298 316.7h1v0.9h-1zM298 326.0h1v0.7h-1zM299 317.1h1v0.5h-1zM300 316.1h1v1.5h-1zM302 326.0h1v1.4h-1zM302 326.0h1v1.4h-1zM303 316.8h1v0.8h-1zM303 316.9h1v0.7h-1zM303 326.0h1v1.6h-1zM303 326.0h1v0.9h-1zM304 326.0h1v0.6h-1zM305 316.4h1v1.2h-1zM305 326.0h1v1.4h-1zM306 317.0h1v0.6h-1zM307 317.1h1v0.5h-1zM308 326.0h1v1.1h-1zM309 316.7h1v0.9h-1zM309 326.0h1v0.9h-1zM309 326.0h1v0.6h-1zM310 316.7h1v0.9h-1zM311 316.8h1v0.8h-1zM311 326.0h1v2.1h-1zM311 326.0h1v1.3h-1zM313 316.7h1v0.9h-1zM313 326.0h1v0.8h-1zM314 326.0h1v0.9h-1zM315 317.0h1v0.6h-1zM315 326.0h1v1.4h-1zM316 316.7h1v0.9h-1zM316 326.0h1v1.3h-1zM317 316.9h1v0.7h-1zM318 316.9h1v0.7h-1zM318 326.0h1v0.9h-1zM319 316.8h1v0.8h-1zM319 326.0h1v2.3h-1zM320 326.0h1v1.8h-1zM321 316.9h1v0.7h-1zM321 342.0h1v1.2h-1zM322 327.0h1v1.3h-1zM322 352.8h1v2.0h-1zM322 352.8h1v1.4h-1zM323 352.8h1v1.3h-1zM324 343.6h1v0.8h-1zM324 352.8h1v0.8h-1zM325 352.8h1v1.2h-1zM326 343.6h1v0.8h-1zM326 352.8h1v0.8h-1zM327 343.8h1v0.6h-1zM327 343.8h1v0.6h-1zM328 343.7h1v0.7h-1zM329 343.6h1v0.8h-1zM329 352.8h1v1.1h-1zM330 343.5h1v0.9h-1zM331 343.7h1v0.7h-1zM331 343.6h1v0.8h-1zM331 352.8h1v1.1h-1zM332 342.8h1v1.6h-1zM332 352.8h1v1.3h-1zM333 343.2h1v1.2h-1zM333 352.8h1v1.4h-1zM334 343.3h1v1.1h-1zM334 352.8h1v2.2h-1zM334 352.8h1v1.4h-1zM336 352.8h1v0.9h-1zM337 343.5h1v0.9h-1zM337 352.8h1v1.3h-1zM338 343.1h1v1.3h-1zM338 343.5h1v0.9h-1zM338 352.8h1v1.8h-1zM339 352.8h1v1.0h-1zM339 352.8h1v1.1h-1zM340 352.8h1v0.8h-1zM342 343.5h1v0.9h-1zM342 352.8h1v1.3h-1zM343 343.0h1v1.4h-1zM344 343.2h1v1.2h-1zM344 352.8h1v1.3h-1zM345 352.8h1v0.9h-1zM347 343.6h1v0.8h-1zM347 352.8h1v0.9h-1zM347 352.8h1v1.1h-1zM348 343.1h1v1.3h-1zM348 343.6h1v0.8h-1zM348 352.8h1v1.4h-1zM349 343.5h1v0.9h-1zM349 352.8h1v0.9h-1zM350 343.6h1v0.8h-1zM350 352.8h1v0.6h-1zM351 352.8h1v1.6h-1zM352 343.3h1v1.1h-1zM352 352.8h1v1.9h-1zM352 352.8h1v1.1h-1zM353 343.6h1v0.8h-1zM354 342.9h1v1.5h-1zM354 352.8h1v0.8h-1zM354 352.8h1v0.7h-1zM356 352.8h1v1.9h-1zM357 352.8h1v1.4h-1zM358 342.8h1v1.6h-1zM358 343.6h1v0.8h-1zM358 352.8h1v1.2h-1zM359 343.7h1v0.7h-1zM359 352.8h1v1.2h-1zM360 343.1h1v1.3h-1zM360 343.8h1v0.6h-1zM360 352.8h1v2.0h-1zM360 352.8h1v1.1h-1zM361 343.1h1v1.3h-1zM361 343.9h1v0.5h-1zM362 343.8h1v0.6h-1zM362 343.9h1v0.5h-1zM362 352.8h1v1.9h-1zM362 352.8h1v0.9h-1zM363 343.7h1v0.7h-1zM363 352.8h1v0.9h-1zM364 343.5h1v0.9h-1zM366 342.9h1v1.5h-1zM366 343.8h1v0.6h-1zM366 352.8h1v1.1h-1zM368 343.8h1v0.6h-1zM368 352.8h1v1.1h-1zM369 342.8h1v1.6h-1zM369 343.8h1v0.6h-1zM369 352.8h1v0.7h-1zM370 343.8h1v0.6h-1zM371 343.7h1v0.7h-1zM371 352.8h1v2.1h-1zM371 352.8h1v1.4h-1zM372 343.7h1v0.7h-1zM372 352.8h1v0.8h-1zM373 343.8h1v0.6h-1zM374 343.3h1v1.1h-1zM374 343.9h1v0.5h-1zM374 352.8h1v1.9h-1zM375 343.5h1v0.9h-1zM375 352.8h1v1.9h-1zM376 343.5h1v0.9h-1zM376 343.5h1v0.9h-1zM376 352.8h1v1.8h-1zM378 343.7h1v0.7h-1zM378 343.5h1v0.9h-1zM378 352.8h1v1.1h-1zM379 343.8h1v0.6h-1zM379 352.8h1v0.9h-1zM380 343.4h1v1.0h-1zM380 343.5h1v0.9h-1zM381 343.6h1v0.8h-1zM381 352.8h1v2.3h-1zM382 343.2h1v1.2h-1zM382 343.5h1v0.9h-1zM383 352.8h1v1.2h-1zM384 343.7h1v0.7h-1zM385 343.0h1v1.4h-1zM385 343.9h1v0.5h-1zM386 343.7h1v0.7h-1zM386 352.8h1v2.1h-1zM386 352.8h1v1.2h-1zM388 343.4h1v1.0h-1zM388 343.6h1v0.8h-1zM388 352.8h1v0.9h-1zM389 343.5h1v0.9h-1zM389 352.8h1v1.2h-1zM389 352.8h1v1.3h-1zM390 342.9h1v1.5h-1zM390 343.8h1v0.6h-1zM390 352.8h1v1.6h-1zM390 352.8h1v1.2h-1zM391 342.9h1v1.5h-1zM391 352.8h1v1.1h-1zM393 343.5h1v0.9h-1zM393 352.8h1v1.1h-1zM394 343.3h1v1.1h-1zM394 343.8h1v0.6h-1zM395 352.8h1v1.9h-1zM395 352.8h1v1.3h-1zM397 343.5h1v0.9h-1zM398 352.8h1v2.1h-1zM399 343.7h1v0.7h-1zM399 352.8h1v2.1h-1zM400 352.8h1v0.7h-1zM401 343.7h1v0.7h-1zM403 352.8h1v0.9h-1zM403 352.8h1v1.3h-1zM404 343.6h1v0.8h-1zM404 343.9h1v0.5h-1zM404 352.8h1v2.1h-1zM404 352.8h1v0.7h-1zM405 352.8h1v1.3h-1zM406 352.8h1v1.0h-1zM407 352.8h1v1.4h-1zM408 343.6h1v0.8h-1zM408 343.5h1v0.9h-1zM408 352.8h1v1.2h-1zM408 352.8h1v1.0h-1zM409 343.0h1v1.4h-1zM409 343.8h1v0.6h-1zM410 352.8h1v1.2h-1zM411 343.0h1v1.4h-1zM412 343.6h1v0.8h-1zM412 352.8h1v1.4h-1zM413 343.5h1v0.9h-1zM413 352.8h1v2.4h-1zM414 343.8h1v0.6h-1zM414 352.8h1v1.1h-1zM415 343.6h1v0.8h-1zM416 352.8h1v1.8h-1zM417 343.5h1v0.9h-1zM417 343.9h1v0.5h-1zM417 352.8h1v1.3h-1zM417 352.8h1v0.6h-1zM418 343.6h1v0.8h-1zM419 343.6h1v0.8h-1zM420 343.2h1v1.2h-1zM420 343.5h1v0.9h-1zM420 352.8h1v2.2h-1zM420 352.8h1v0.9h-1zM421 343.4h1v1.0h-1zM421 352.8h1v1.1h-1zM422 343.4h1v1.0h-1zM423 343.0h1v1.4h-1zM423 343.4h1v1.0h-1zM423 352.8h1v1.4h-1zM423 352.8h1v1.4h-1zM424 343.2h1v1.2h-1zM424 352.8h1v1.4h-1zM424 352.8h1v1.4h-1zM425 343.5h1v0.9h-1zM426 343.8h1v0.6h-1zM426 343.7h1v0.7h-1zM427 343.5h1v0.9h-1zM428 343.2h1v1.2h-1zM428 343.7h1v0.7h-1zM428 352.8h1v1.0h-1zM429 352.8h1v0.9h-1zM430 343.4h1v1.0h-1zM430 352.8h1v0.7h-1zM431 343.5h1v0.9h-1zM431 352.8h1v1.0h-1zM432 343.7h1v0.7h-1zM432 343.7h1v0.7h-1zM432 352.8h1v1.2h-1zM433 343.5h1v0.9h-1zM433 343.9h1v0.5h-1zM433 352.8h1v1.6h-1zM433 352.8h1v0.9h-1zM434 343.9h1v0.5h-1zM436 352.8h1v1.2h-1zM437 343.9h1v0.5h-1zM437 352.8h1v2.1h-1zM438 352.8h1v2.0h-1zM439 352.8h1v1.8h-1zM439 352.8h1v0.9h-1zM440 343.5h1v0.9h-1zM441 343.5h1v0.9h-1zM441 352.8h1v1.3h-1zM441 352.8h1v0.7h-1zM442 343.6h1v0.8h-1zM442 352.8h1v1.0h-1zM443 343.6h1v0.8h-1zM443 352.8h1v1.1h-1zM443 352.8h1v0.7h-1zM444 343.6h1v0.8h-1zM444 343.7h1v0.7h-1zM445 343.4h1v1.0h-1zM446 343.9h1v0.5h-1zM446 352.8h1v1.2h-1zM447 343.3h1v1.1h-1zM447 352.8h1v1.8h-1zM447 352.8h1v1.3h-1zM448 352.8h1v1.4h-1zM449 343.3h1v1.1h-1zM450 352.8h1v1.2h-1zM451 352.8h1v2.0h-1zM452 343.7h1v0.7h-1zM452 352.8h1v0.8h-1zM453 343.2h1v1.2h-1zM453 343.5h1v0.9h-1zM454 352.8h1v0.9h-1zM454 352.8h1v0.9h-1zM455 343.9h1v0.5h-1zM455 352.8h1v1.3h-1zM456 343.0h1v1.4h-1zM456 343.7h1v0.7h-1zM457 343.7h1v0.7h-1zM457 352.8h1v1.5h-1zM458 352.8h1v1.0h-1zM459 352.8h1v1.7h-1zM459 352.8h1v1.4h-1zM460 343.8h1v0.6h-1zM460 352.8h1v0.9h-1zM461 343.6h1v0.8h-1zM461 352.8h1v0.5h-1zM462 343.8h1v0.6h-1zM462 352.8h1v2.3h-1zM462 352.8h1v0.6h-1zM464 343.4h1v1.0h-1zM464 352.8h1v0.6h-1zM465 343.7h1v0.7h-1zM465 352.8h1v1.2h-1zM467 343.3h1v1.1h-1zM467 352.8h1v0.6h-1zM468 343.7h1v0.7h-1zM468 352.8h1v1.2h-1zM469 343.2h1v1.2h-1zM469 343.7h1v0.7h-1zM470 352.8h1v2.3h-1zM471 343.6h1v0.8h-1zM471 352.8h1v0.8h-1zM471 352.8h1v0.9h-1zM473 343.5h1v0.9h-1zM473 352.8h1v1.0h-1zM473 352.8h1v1.3h-1zM474 352.8h1v0.5h-1zM475 343.3h1v1.1h-1zM475 352.8h1v1.5h-1zM476 343.8h1v0.6h-1zM476 352.8h1v2.3h-1zM476 352.8h1v1.4h-1zM477 352.8h1v2.2h-1zM477 352.8h1v1.1h-1zM478 343.7h1v0.7h-1zM478 352.8h1v1.2h-1zM479 343.8h1v0.6h-1zM479 352.8h1v0.7h-1zM480 343.8h1v0.6h-1zM480 352.8h1v0.8h-1zM481 343.0h1v1.4h-1zM481 352.8h1v1.5h-1zM483 343.6h1v0.8h-1zM483 352.8h1v2.2h-1zM485 343.6h1v0.8h-1zM485 352.8h1v1.4h-1zM486 343.5h1v0.9h-1zM486 343.5h1v0.9h-1zM486 352.8h1v0.9h-1zM487 352.8h1v1.9h-1zM488 343.8h1v0.6h-1zM488 352.8h1v0.8h-1zM490 343.5h1v0.9h-1zM491 343.7h1v0.7h-1zM491 352.8h1v1.1h-1zM492 343.6h1v0.8h-1zM492 343.8h1v0.6h-1zM493 343.7h1v0.7h-1zM493 352.8h1v1.6h-1zM493 352.8h1v0.9h-1zM494 343.5h1v0.9h-1zM494 343.6h1v0.8h-1zM494 352.8h1v1.5h-1zM494 352.8h1v0.6h-1zM495 343.1h1v1.3h-1zM496 352.8h1v2.0h-1zM498 343.7h1v0.7h-1zM498 352.8h1v1.7h-1zM498 352.8h1v0.8h-1zM499 343.0h1v1.4h-1zM499 343.5h1v0.9h-1zM500 343.2h1v1.2h-1zM500 352.8h1v0.9h-1zM501 343.3h1v1.1h-1zM501 343.8h1v0.6h-1zM501 352.8h1v1.5h-1zM502 343.6h1v0.8h-1zM503 352.8h1v0.7h-1zM505 352.8h1v1.6h-1zM506 343.6h1v0.8h-1zM506 352.8h1v1.0h-1zM508 343.9h1v0.5h-1zM509 343.7h1v0.7h-1zM509 352.8h1v1.4h-1zM510 343.6h1v0.8h-1zM510 343.6h1v0.8h-1zM511 343.7h1v0.7h-1zM511 352.8h1v1.4h-1zM512 343.8h1v0.6h-1zM512 352.8h1v1.5h-1zM513 352.8h1v1.0h-1zM514 343.6h1v0.8h-1zM514 352.8h1v1.0h-1zM515 343.7h1v0.7h-1zM516 343.6h1v0.8h-1zM516 352.8h1v2.2h-1zM516 352.8h1v0.8h-1zM517 343.1h1v1.3h-1zM517 343.9h1v0.5h-1zM517 352.8h1v1.2h-1zM518 343.5h1v0.9h-1zM518 352.8h1v1.7h-1zM519 343.2h1v1.2h-1zM519 352.8h1v1.3h-1zM520 343.6h1v0.8h-1zM520 352.8h1v1.3h-1zM521 343.6h1v0.8h-1z" fill="#00ff00" fill-opacity="0.5"/>
<polygon points="22,344.6 121,344.6 121,317.6 322.1,317.6 323.1,344.4 522,344.4 522,352.8 321.9,352.8 321.65,345 320.7,326 122.3,326 122.3,353 22,353" fill="#00ff00"/>
<path shape-rendering="crispEdges" fill="#000" d="M21 19h2v1h-2zM24 19h1v1h-1zM26 19h1v1h-1zM28 19h1v1h-1zM30 19h1v1h-1zM32 19h1v1h-1zM34 19h1v1h-1zM36 19h1v1h-1zM38 19h1v1h-1zM40 19h1v1h-1zM42 19h1v1h-1zM44 19h1v1h-1zM46 19h1v1h-1zM48 19h1v1h-1zM50 19h1v1h-1zM52 19h1v1h-1zM54 19h1v1h-1zM56 19h1v1h-1zM58 19h1v1h-1zM60 19h1v1h-1zM62 19h1v1h-1zM64 19h1v1h-1zM66 19h1v1h-1zM68 19h1v1h-1zM70 19h1v1h-1zM72 19h1v1h-1zM74 19h1v1h-1zM76 19h1v1h-1zM78 19h1v1h-1zM80 19h1v1h-1zM82 19h1v1h-1zM84 19h1v1h-1zM86 19h1v1h-1zM88 19h1v1h-1zM90 19h1v1h-1zM92 19h1v1h-1zM94 19h1v1h-1zM96 19h1v1h-1zM98 19h1v1h-1zM100 19h1v1h-1zM102 19h1v1h-1zM104 19h1v1h-1zM106 19h1v1h-1zM108 19h1v1h-1zM110 19h1v1h-1zM112 19h1v1h-1zM114 19h1v1h-1zM116 19h1v1h-1zM118 19h1v1h-1zM120 19h1v1h-1zM122 19h1v1h-1zM124 19h1v1h-1zM126 19h1v1h-1zM128 19h1v1h-1zM130 19h1v1h-1zM132 19h1v1h-1zM134 19h1v1h-1zM136 19h1v1h-1zM138 19h1v1h-1zM140 19h1v1h-1zM142 19h1v1h-1zM144 19h1v1h-1zM146 19h1v1h-1zM148 19h1v1h-1zM150 19h1v1h-1zM152 19h1v1h-1zM154 19h1v1h-1zM156 19h1v1h-1zM158 19h1v1h-1zM160 19h1v1h-1zM162 19h1v1h-1zM164 19h1v1h-1zM166 19h1v1h-1zM168 19h1v1h-1zM170 19h1v1h-1zM172 19h1v1h-1zM174 19h1v1h-1zM176 19h1v1h-1zM178 19h1v1h-1zM180 19h1v1h-1zM182 19h1v1h-1zM184 19h1v1h-1zM186 19h1v1h-1zM188 19h1v1h-1zM190 19h1v1h-1zM192 19h1v1h-1zM194 19h1v1h-1zM196 19h1v1h-1zM198 19h1v1h-1zM200 19h1v1h-1zM202 19h1v1h-1zM204 19h1v1h-1zM206 19h1v1h-1zM208 19h1v1h-1zM210 19h1v1h-1zM212 19h1v1h-1zM214 19h1v1h-1zM216 19h1v1h-1zM218 19h1v1h-1zM220 19h1v1h-1zM222 19h1v1h-1zM224 19h1v1h-1zM226 19h1v1h-1zM228 19h1v1h-1zM230 19h1v1h-1zM232 19h1v1h-1zM234 19h1v1h-1zM236 19h1v1h-1zM238 19h1v1h-1zM240 19h1v1h-1zM242 19h1v1h-1zM244 19h1v1h-1zM246 19h1v1h-1zM248 19h1v1h-1zM250 19h1v1h-1zM252 19h1v1h-1zM254 19h1v1h-1zM256 19h1v1h-1zM258 19h1v1h-1zM260 19h1v1h-1zM262 19h1v1h-1zM264 19h1v1h-1zM266 19h1v1h-1zM268 19h1v1h-1zM270 19h1v1h-1zM272 19h1v1h-1zM274 19h1v1h-1zM276 19h1v1h-1zM278 19h1v1h-1zM280 19h1v1h-1zM282 19h1v1h-1zM284 19h1v1h-1zM286 19h1v1h-1zM288 19h1v1h-1zM290 19h1v1h-1zM292 19h1v1h-1zM294 19h1v1h-1zM296 19h1v1h-1zM298 19h1v1h-1zM300 19h1v1h-1zM302 19h1v1h-1zM304 19h1v1h-1zM306 19h1v1h-1zM308 19h1v1h-1zM310 19h1v1h-1zM312 19h1v1h-1zM314 19h1v1h-1zM316 19h1v1h-1zM318 19h1v1h-1zM320 19h1v1h-1zM322 19h1v1h-1zM324 19h1v1h-1zM326 19h1v1h-1zM328 19h1v1h-1zM330 19h1v1h-1zM332 19h1v1h-1zM334 19h1v1h-1zM336 19h1v1h-1zM338 19h1v1h-1zM340 19h1v1h-1zM342 19h1v1h-1zM344 19h1v1h-1zM346 19h1v1h-1zM348 19h1v1h-1zM350 19h1v1h-1zM352 19h1v1h-1zM354 19h1v1h-1zM356 19h1v1h-1zM358 19h1v1h-1zM360 19h1v1h-1zM362 19h1v1h-1zM364 19h1v1h-1zM366 19h1v1h-1zM368 19h1v1h-1zM370 19h1v1h-1zM372 19h1v1h-1zM374 19h1v1h-1zM376 19h1v1h-1zM378 19h1v1h-1zM380 19h1v1h-1zM382 19h1v1h-1zM384 19h1v1h-1zM386 19h1v1h-1zM388 19h1v1h-1zM390 19h1v1h-1zM392 19h1v1h-1zM394 19h1v1h-1zM396 19h1v1h-1zM398 19h1v1h-1zM400 19h1v1h-1zM402 19h1v1h-1zM404 19h1v1h-1zM406 19h1v1h-1zM408 19h1v1h-1zM410 19h1v1h-1zM412 19h1v1h-1zM414 19h1v1h-1zM416 19h1v1h-1zM418 19h1v1h-1zM420 19h1v1h-1zM422 19h1v1h-1zM424 19h1v1h-1zM426 19h1v1h-1zM428 19h1v1h-1zM430 19h1v1h-1zM432 19h1v1h-1zM434 19h1v1h-1zM436 19h1v1h-1zM438 19h1v1h-1zM440 19h1v1h-1zM442 19h1v1h-1zM444 19h1v1h-1zM446 19h1v1h-1zM448 19h1v1h-1zM450 19h1v1h-1zM452 19h1v1h-1zM454 19h1v1h-1zM456 19h1v1h-1zM458 19h1v1h-1zM460 19h1v1h-1zM462 19h1v1h-1zM464 19h1v1h-1zM466 19h1v1h-1zM468 19h1v1h-1zM470 19h1v1h-1zM472 19h1v1h-1zM474 19h1v1h-1zM476 19h1v1h-1zM478 19h1v1h-1zM480 19h1v1h-1zM482 19h1v1h-1zM484 19h1v1h-1zM486 19h1v1h-1zM488 19h1v1h-1zM490 19h1v1h-1zM492 19h1v1h-1zM494 19h1v1h-1zM496 19h1v1h-1zM498 19h1v1h-1zM500 19h1v1h-1zM502 19h1v1h-1zM504 19h1v1h-1zM506 19h1v1h-1zM508 19h1v1h-1zM510 19h1v1h-1zM512 19h1v1h-1zM514 19h1v1h-1zM516 19h1v1h-1zM518 19h1v1h-1zM520 19h1v1h-1zM522 19h1v1h-1zM21 20h1v1h-1zM32 20h1v1h-1zM42 20h1v1h-1zM52 20h1v1h-1zM62 20h1v1h-1zM82 20h1v1h-1zM92 20h1v1h-1zM102 20h1v1h-1zM112 20h1v1h-1zM132 20h1v1h-1zM142 20h1v1h-1zM152 20h1v1h-1zM162 20h1v1h-1zM182 20h1v1h-1zM192 20h1v1h-1zM202 20h1v1h-1zM212 20h1v1h-1zM232 20h1v1h-1zM242 20h1v1h-1zM252 20h1v1h-1zM262 20h1v1h-1zM272 20h1v1h-1zM282 20h1v1h-1zM292 20h1v1h-1zM302 20h1v1h-1zM312 20h1v1h-1zM332 20h1v1h-1zM342 20h1v1h-1zM352 20h1v1h-1zM362 20h1v1h-1zM382 20h1v1h-1zM392 20h1v1h-1zM402 20h1v1h-1zM412 20h1v1h-1zM432 20h1v1h-1zM442 20h1v1h-1zM452 20h1v1h-1zM462 20h1v1h-1zM482 20h1v1h-1zM492 20h1v1h-1zM502 20h1v1h-1zM512 20h1v1h-1zM522 20h1v1h-1zM72 21h1v1h-1zM122 21h1v1h-1zM172 21h1v1h-1zM222 21h1v1h-1zM272 21h1v1h-1zM322 21h1v1h-1zM372 21h1v1h-1zM422 21h1v1h-1zM472 21h1v1h-1zM21 22h1v1h-1zM32 22h1v1h-1zM42 22h1v1h-1zM52 22h1v1h-1zM62 22h1v1h-1zM82 22h1v1h-1zM92 22h1v1h-1zM102 22h1v1h-1zM112 22h1v1h-1zM132 22h1v1h-1zM142 22h1v1h-1zM152 22h1v1h-1zM162 22h1v1h-1zM182 22h1v1h-1zM192 22h1v1h-1zM202 22h1v1h-1zM212 22h1v1h-1zM232 22h1v1h-1zM242 22h1v1h-1zM252 22h1v1h-1zM262 22h1v1h-1zM272 22h1v1h-1zM282 22h1v1h-1zM292 22h1v1h-1zM302 22h1v1h-1zM312 22h1v1h-1zM332 22h1v1h-1zM342 22h1v1h-1zM352 22h1v1h-1zM362 22h1v1h-1zM382 22h1v1h-1zM392 22h1v1h-1zM402 22h1v1h-1zM412 22h1v1h-1zM432 22h1v1h-1zM442 22h1v1h-1zM452 22h1v1h-1zM462 22h1v1h-1zM482 22h1v1h-1zM492 22h1v1h-1zM502 22h1v1h-1zM512 22h1v1h-1zM522 22h1v1h-1zM72 23h1v1h-1zM122 23h1v1h-1zM172 23h1v1h-1zM222 23h1v1h-1zM272 23h1v1h-1zM322 23h1v1h-1zM372 23h1v1h-1zM422 23h1v1h-1zM472 23h1v1h-1zM21 24h1v1h-1zM272 24h1v1h-1zM522 24h1v1h-1zM72 25h1v1h-1zM122 25h1v1h-1zM172 25h1v1h-1zM222 25h1v1h-1zM272 25h1v1h-1zM322 25h1v1h-1zM372 25h1v1h-1zM422 25h1v1h-1zM472 25h1v1h-1zM21 26h1v1h-1zM272 26h1v1h-1zM522 26h1v1h-1zM21 28h1v1h-1zM272 28h1v1h-1zM522 28h1v1h-1zM21 30h2v1h-2zM24 30h1v1h-1zM72 30h1v1h-1zM122 30h1v1h-1zM172 30h1v1h-1zM222 30h1v1h-1zM269 30h1v1h-1zM271 30h3v1h-3zM275 30h1v1h-1zM322 30h1v1h-1zM372 30h1v1h-1zM422 30h1v1h-1zM472 30h1v1h-1zM519 30h1v1h-1zM521 30h2v1h-2zM21 32h1v1h-1zM272 32h1v1h-1zM522 32h1v1h-1zM21 34h1v1h-1zM272 34h1v1h-1zM522 34h1v1h-1zM21 36h1v1h-1zM272 36h1v1h-1zM522 36h1v1h-1zM21 38h1v1h-1zM272 38h1v1h-1zM522 38h1v1h-1zM21 40h2v1h-2zM24 40h1v1h-1zM72 40h1v1h-1zM122 40h1v1h-1zM172 40h1v1h-1zM222 40h1v1h-1zM269 40h1v1h-1zM271 40h3v1h-3zM275 40h1v1h-1zM322 40h1v1h-1zM372 40h1v1h-1zM422 40h1v1h-1zM472 40h1v1h-1zM519 40h1v1h-1zM521 40h2v1h-2zM21 42h1v1h-1zM272 42h1v1h-1zM522 42h1v1h-1zM21 44h1v1h-1zM272 44h1v1h-1zM522 44h1v1h-1zM21 46h1v1h-1zM272 46h1v1h-1zM522 46h1v1h-1zM21 48h1v1h-1zM272 48h1v1h-1zM522 48h1v1h-1zM21 50h2v1h-2zM24 50h1v1h-1zM72 50h1v1h-1zM122 50h1v1h-1zM172 50h1v1h-1zM222 50h1v1h-1zM269 50h1v1h-1zM271 50h3v1h-3zM275 50h1v1h-1zM322 50h1v1h-1zM372 50h1v1h-1zM422 50h1v1h-1zM472 50h1v1h-1zM519 50h1v1h-1zM521 50h2v1h-2zM21 52h1v1h-1zM272 52h1v1h-1zM522 52h1v1h-1zM21 54h1v1h-1zM272 54h1v1h-1zM522 54h1v1h-1zM21 56h1v1h-1zM272 56h1v1h-1zM522 56h1v1h-1zM21 58h1v1h-1zM272 58h1v1h-1zM522 58h1v1h-1zM21 60h2v1h-2zM24 60h1v1h-1zM72 60h1v1h-1zM122 60h1v1h-1zM172 60h1v1h-1zM222 60h1v1h-1zM269 60h1v1h-1zM271 60h3v1h-3zM275 60h1v1h-1zM322 60h1v1h-1zM372 60h1v1h-1zM422 60h1v1h-1zM472 60h1v1h-1zM519 60h1v1h-1zM521 60h2v1h-2zM21 62h1v1h-1zM272 62h1v1h-1zM522 62h1v1h-1zM21 64h1v1h-1zM272 64h1v1h-1zM522 64h1v1h-1zM21 66h1v1h-1zM272 66h1v1h-1zM522 66h1v1h-1zM21 68h1v1h-1zM272 68h1v1h-1zM522 68h1v1h-1zM21 70h1v1h-1zM23 70h1v1h-1zM25 70h1v1h-1zM27 70h1v1h-1zM32 70h1v1h-1zM42 70h1v1h-1zM52 70h1v1h-1zM62 70h1v1h-1zM72 70h1v1h-1zM82 70h1v1h-1zM92 70h1v1h-1zM102 70h1v1h-1zM112 70h1v1h-1zM122 70h1v1h-1zM132 70h1v1h-1zM142 70h1v1h-1zM152 70h1v1h-1zM162 70h1v1h-1zM172 70h1v1h-1zM182 70h1v1h-1zM192 70h1v1h-1zM202 70h1v1h-1zM212 70h1v1h-1zM222 70h1v1h-1zM232 70h1v1h-1zM242 70h1v1h-1zM252 70h1v1h-1zM262 70h1v1h-1zM266 70h1v1h-1zM268 70h1v1h-1zM270 70h1v1h-1zM272 70h1v1h-1zM274 70h1v1h-1zM276 70h1v1h-1zM278 70h1v1h-1zM282 70h1v1h-1zM292 70h1v1h-1zM302 70h1v1h-1zM312 70h1v1h-1zM322 70h1v1h-1zM332 70h1v1h-1zM342 70h1v1h-1zM352 70h1v1h-1zM362 70h1v1h-1zM372 70h1v1h-1zM382 70h1v1h-1zM392 70h1v1h-1zM402 70h1v1h-1zM412 70h1v1h-1zM422 70h1v1h-1zM432 70h1v1h-1zM442 70h1v1h-1zM452 70h1v1h-1zM462 70h1v1h-1zM472 70h1v1h-1zM482 70h1v1h-1zM492 70h1v1h-1zM502 70h1v1h-1zM512 70h1v1h-1zM516 70h1v1h-1zM518 70h1v1h-1zM520 70h1v1h-1zM522 70h1v1h-1zM21 72h1v1h-1zM272 72h1v1h-1zM522 72h1v1h-1zM21 74h1v1h-1zM272 74h1v1h-1zM522 74h1v1h-1zM21 76h1v1h-1zM272 76h1v1h-1zM522 76h1v1h-1zM21 78h1v1h-1zM272 78h1v1h-1zM522 78h1v1h-1zM21 80h2v1h-2zM24 80h1v1h-1zM72 80h1v1h-1zM122 80h1v1h-1zM172 80h1v1h-1zM222 80h1v1h-1zM269 80h1v1h-1zM271 80h3v1h-3zM275 80h1v1h-1zM322 80h1v1h-1zM372 80h1v1h-1zM422 80h1v1h-1zM472 80h1v1h-1zM519 80h1v1h-1zM521 80h2v1h-2zM21 82h1v1h-1zM272 82h1v1h-1zM522 82h1v1h-1zM21 84h1v1h-1zM272 84h1v1h-1zM522 84h1v1h-1zM21 86h1v1h-1zM272 86h1v1h-1zM522 86h1v1h-1zM21 88h1v1h-1zM272 88h1v1h-1zM522 88h1v1h-1zM21 90h2v1h-2zM24 90h1v1h-1zM72 90h1v1h-1zM122 90h1v1h-1zM172 90h1v1h-1zM222 90h1v1h-1zM269 90h1v1h-1zM271 90h3v1h-3zM275 90h1v1h-1zM322 90h1v1h-1zM372 90h1v1h-1zM422 90h1v1h-1zM472 90h1v1h-1zM519 90h1v1h-1zM521 90h2v1h-2zM21 92h1v1h-1zM272 92h1v1h-1zM522 92h1v1h-1zM21 94h1v1h-1zM272 94h1v1h-1zM522 94h1v1h-1zM21 96h1v1h-1zM272 96h1v1h-1zM522 96h1v1h-1zM21 98h1v1h-1zM272 98h1v1h-1zM522 98h1v1h-1zM21 100h2v1h-2zM24 100h1v1h-1zM72 100h1v1h-1zM122 100h1v1h-1zM172 100h1v1h-1zM222 100h1v1h-1zM269 100h1v1h-1zM271 100h3v1h-3zM275 100h1v1h-1zM322 100h1v1h-1zM372 100h1v1h-1zM422 100h1v1h-1zM472 100h1v1h-1zM519 100h1v1h-1zM521 100h2v1h-2zM21 102h1v1h-1zM272 102h1v1h-1zM522 102h1v1h-1zM21 104h1v1h-1zM272 104h1v1h-1zM522 104h1v1h-1zM21 106h1v1h-1zM272 106h1v1h-1zM522 106h1v1h-1zM21 108h1v1h-1zM272 108h1v1h-1zM522 108h1v1h-1zM21 110h2v1h-2zM24 110h1v1h-1zM72 110h1v1h-1zM122 110h1v1h-1zM172 110h1v1h-1zM222 110h1v1h-1zM269 110h1v1h-1zM271 110h3v1h-3zM275 110h1v1h-1zM322 110h1v1h-1zM372 110h1v1h-1zM422 110h1v1h-1zM472 110h1v1h-1zM519 110h1v1h-1zM521 110h2v1h-2zM21 112h1v1h-1zM272 112h1v1h-1zM522 112h1v1h-1zM21 114h1v1h-1zM272 114h1v1h-1zM522 114h1v1h-1zM21 116h1v1h-1zM272 116h1v1h-1zM522 116h1v1h-1zM21 118h1v1h-1zM272 118h1v1h-1zM522 118h1v1h-1zM21 120h1v1h-1zM23 120h1v1h-1zM25 120h1v1h-1zM27 120h1v1h-1zM32 120h1v1h-1zM42 120h1v1h-1zM52 120h1v1h-1zM62 120h1v1h-1zM72 120h1v1h-1zM82 120h1v1h-1zM92 120h1v1h-1zM102 120h1v1h-1zM112 120h1v1h-1zM122 120h1v1h-1zM132 120h1v1h-1zM142 120h1v1h-1zM152 120h1v1h-1zM162 120h1v1h-1zM172 120h1v1h-1zM182 120h1v1h-1zM192 120h1v1h-1zM202 120h1v1h-1zM212 120h1v1h-1zM222 120h1v1h-1zM232 120h1v1h-1zM242 120h1v1h-1zM252 120h1v1h-1zM262 120h1v1h-1zM266 120h1v1h-1zM268 120h1v1h-1zM270 120h1v1h-1zM272 120h1v1h-1zM274 120h1v1h-1zM276 120h1v1h-1zM278 120h1v1h-1zM282 120h1v1h-1zM292 120h1v1h-1zM302 120h1v1h-1zM312 120h1v1h-1zM322 120h1v1h-1zM332 120h1v1h-1zM342 120h1v1h-1zM352 120h1v1h-1zM362 120h1v1h-1zM372 120h1v1h-1zM382 120h1v1h-1zM392 120h1v1h-1zM402 120h1v1h-1zM412 120h1v1h-1zM422 120h1v1h-1zM432 120h1v1h-1zM442 120h1v1h-1zM452 120h1v1h-1zM462 120h1v1h-1zM472 120h1v1h-1zM482 120h1v1h-1zM492 120h1v1h-1zM502 120h1v1h-1zM512 120h1v1h-1zM516 120h1v1h-1zM518 120h1v1h-1zM520 120h1v1h-1zM522 120h1v1h-1zM21 122h1v1h-1zM272 122h1v1h-1zM522 122h1v1h-1zM21 124h1v1h-1zM272 124h1v1h-1zM522 124h1v1h-1zM21 126h1v1h-1zM272 126h1v1h-1zM522 126h1v1h-1zM21 128h1v1h-1zM272 128h1v1h-1zM522 128h1v1h-1zM21 130h2v1h-2zM24 130h1v1h-1zM72 130h1v1h-1zM122 130h1v1h-1zM172 130h1v1h-1zM222 130h1v1h-1zM269 130h1v1h-1zM271 130h3v1h-3zM275 130h1v1h-1zM322 130h1v1h-1zM372 130h1v1h-1zM422 130h1v1h-1zM472 130h1v1h-1zM519 130h1v1h-1zM521 130h2v1h-2zM21 132h1v1h-1zM272 132h1v1h-1zM522 132h1v1h-1zM21 134h1v1h-1zM272 134h1v1h-1zM522 134h1v1h-1zM21 136h1v1h-1zM272 136h1v1h-1zM522 136h1v1h-1zM21 138h1v1h-1zM272 138h1v1h-1zM522 138h1v1h-1zM21 140h2v1h-2zM24 140h1v1h-1zM72 140h1v1h-1zM122 140h1v1h-1zM172 140h1v1h-1zM222 140h1v1h-1zM269 140h1v1h-1zM271 140h3v1h-3zM275 140h1v1h-1zM322 140h1v1h-1zM372 140h1v1h-1zM422 140h1v1h-1zM472 140h1v1h-1zM519 140h1v1h-1zM521 140h2v1h-2zM21 142h1v1h-1zM272 142h1v1h-1zM522 142h1v1h-1zM21 144h1v1h-1zM272 144h1v1h-1zM522 144h1v1h-1zM21 146h1v1h-1zM272 146h1v1h-1zM522 146h1v1h-1zM21 148h1v1h-1zM272 148h1v1h-1zM522 148h1v1h-1zM21 150h2v1h-2zM24 150h1v1h-1zM72 150h1v1h-1zM122 150h1v1h-1zM172 150h1v1h-1zM222 150h1v1h-1zM269 150h1v1h-1zM271 150h3v1h-3zM275 150h1v1h-1zM322 150h1v1h-1zM372 150h1v1h-1zM422 150h1v1h-1zM472 150h1v1h-1zM519 150h1v1h-1zM521 150h2v1h-2zM21 152h1v1h-1zM272 152h1v1h-1zM522 152h1v1h-1zM21 154h1v1h-1zM272 154h1v1h-1zM522 154h1v1h-1zM21 156h1v1h-1zM272 156h1v1h-1zM522 156h1v1h-1zM21 158h1v1h-1zM272 158h1v1h-1zM522 158h1v1h-1zM21 160h2v1h-2zM24 160h1v1h-1zM72 160h1v1h-1zM122 160h1v1h-1zM172 160h1v1h-1zM222 160h1v1h-1zM269 160h1v1h-1zM271 160h3v1h-3zM275 160h1v1h-1zM322 160h1v1h-1zM372 160h1v1h-1zM422 160h1v1h-1zM472 160h1v1h-1zM519 160h1v1h-1zM521 160h2v1h-2zM21 162h1v1h-1zM272 162h1v1h-1zM522 162h1v1h-1zM21 164h1v1h-1zM272 164h1v1h-1zM522 164h1v1h-1zM21 166h1v1h-1zM272 166h1v1h-1zM522 166h1v1h-1zM21 168h1v1h-1zM272 168h1v1h-1zM522 168h1v1h-1zM21 170h1v1h-1zM23 170h1v1h-1zM25 170h1v1h-1zM27 170h1v1h-1zM32 170h1v1h-1zM42 170h1v1h-1zM52 170h1v1h-1zM62 170h1v1h-1zM72 170h1v1h-1zM82 170h1v1h-1zM92 170h1v1h-1zM102 170h1v1h-1zM112 170h1v1h-1zM122 170h1v1h-1zM132 170h1v1h-1zM142 170h1v1h-1zM152 170h1v1h-1zM162 170h1v1h-1zM172 170h1v1h-1zM182 170h1v1h-1zM192 170h1v1h-1zM202 170h1v1h-1zM212 170h1v1h-1zM222 170h1v1h-1zM232 170h1v1h-1zM242 170h1v1h-1zM252 170h1v1h-1zM262 170h1v1h-1zM266 170h1v1h-1zM268 170h1v1h-1zM270 170h1v1h-1zM272 170h1v1h-1zM274 170h1v1h-1zM276 170h1v1h-1zM278 170h1v1h-1zM282 170h1v1h-1zM292 170h1v1h-1zM302 170h1v1h-1zM312 170h1v1h-1zM322 170h1v1h-1zM332 170h1v1h-1zM342 170h1v1h-1zM352 170h1v1h-1zM362 170h1v1h-1zM372 170h1v1h-1zM382 170h1v1h-1zM392 170h1v1h-1zM402 170h1v1h-1zM412 170h1v1h-1zM422 170h1v1h-1zM432 170h1v1h-1zM442 170h1v1h-1zM452 170h1v1h-1zM462 170h1v1h-1zM472 170h1v1h-1zM482 170h1v1h-1zM492 170h1v1h-1zM502 170h1v1h-1zM512 170h1v1h-1zM516 170h1v1h-1zM518 170h1v1h-1zM520 170h1v1h-1zM522 170h1v1h-1zM21 172h1v1h-1zM272 172h1v1h-1zM522 172h1v1h-1zM21 174h1v1h-1zM272 174h1v1h-1zM522 174h1v1h-1zM21 176h1v1h-1zM272 176h1v1h-1zM522 176h1v1h-1zM21 178h1v1h-1zM272 178h1v1h-1zM522 178h1v1h-1zM21 180h2v1h-2zM24 180h1v1h-1zM72 180h1v1h-1zM122 180h1v1h-1zM172 180h1v1h-1zM222 180h1v1h-1zM269 180h1v1h-1zM271 180h3v1h-3zM275 180h1v1h-1zM322 180h1v1h-1zM372 180h1v1h-1zM422 180h1v1h-1zM472 180h1v1h-1zM519 180h1v1h-1zM521 180h2v1h-2zM21 182h1v1h-1zM272 182h1v1h-1zM522 182h1v1h-1zM21 184h1v1h-1zM272 184h1v1h-1zM522 184h1v1h-1zM21 186h1v1h-1zM272 186h1v1h-1zM522 186h1v1h-1zM21 188h1v1h-1zM272 188h1v1h-1zM522 188h1v1h-1zM21 190h2v1h-2zM24 190h1v1h-1zM72 190h1v1h-1zM122 190h1v1h-1zM172 190h1v1h-1zM222 190h1v1h-1zM269 190h1v1h-1zM271 190h3v1h-3zM275 190h1v1h-1zM322 190h1v1h-1zM372 190h1v1h-1zM422 190h1v1h-1zM472 190h1v1h-1zM519 190h1v1h-1zM521 190h2v1h-2zM21 192h1v1h-1zM272 192h1v1h-1zM522 192h1v1h-1zM21 194h1v1h-1zM272 194h1v1h-1zM522 194h1v1h-1zM21 196h1v1h-1zM272 196h1v1h-1zM522 196h1v1h-1zM21 198h1v1h-1zM272 198h1v1h-1zM522 198h1v1h-1zM21 200h2v1h-2zM24 200h1v1h-1zM72 200h1v1h-1zM122 200h1v1h-1zM172 200h1v1h-1zM222 200h1v1h-1zM269 200h1v1h-1zM271 200h3v1h-3zM275 200h1v1h-1zM322 200h1v1h-1zM372 200h1v1h-1zM422 200h1v1h-1zM472 200h1v1h-1zM519 200h1v1h-1zM521 200h2v1h-2zM21 202h1v1h-1zM272 202h1v1h-1zM522 202h1v1h-1zM21 204h1v1h-1zM272 204h1v1h-1zM522 204h1v1h-1zM21 206h1v1h-1zM272 206h1v1h-1zM522 206h1v1h-1zM21 208h1v1h-1zM272 208h1v1h-1zM522 208h1v1h-1zM21 210h2v1h-2zM24 210h1v1h-1zM72 210h1v1h-1zM122 210h1v1h-1zM172 210h1v1h-1zM222 210h1v1h-1zM269 210h1v1h-1zM271 210h3v1h-3zM275 210h1v1h-1zM322 210h1v1h-1zM372 210h1v1h-1zM422 210h1v1h-1zM472 210h1v1h-1zM519 210h1v1h-1zM521 210h2v1h-2zM21 212h1v1h-1zM272 212h1v1h-1zM522 212h1v1h-1zM21 214h1v1h-1zM72 214h1v1h-1zM122 214h1v1h-1zM172 214h1v1h-1zM222 214h1v1h-1zM272 214h1v1h-1zM322 214h1v1h-1zM372 214h1v1h-1zM422 214h1v1h-1zM472 214h1v1h-1zM522 214h1v1h-1zM21 216h1v1h-1zM72 216h1v1h-1zM122 216h1v1h-1zM172 216h1v1h-1zM222 216h1v1h-1zM272 216h1v1h-1zM322 216h1v1h-1zM372 216h1v1h-1zM422 216h1v1h-1zM472 216h1v1h-1zM522 216h1v1h-1zM32 217h1v1h-1zM42 217h1v1h-1zM52 217h1v1h-1zM62 217h1v1h-1zM82 217h1v1h-1zM92 217h1v1h-1zM102 217h1v1h-1zM112 217h1v1h-1zM132 217h1v1h-1zM142 217h1v1h-1zM152 217h1v1h-1zM162 217h1v1h-1zM182 217h1v1h-1zM192 217h1v1h-1zM202 217h1v1h-1zM212 217h1v1h-1zM232 217h1v1h-1zM242 217h1v1h-1zM252 217h1v1h-1zM262 217h1v1h-1zM282 217h1v1h-1zM292 217h1v1h-1zM302 217h1v1h-1zM312 217h1v1h-1zM332 217h1v1h-1zM342 217h1v1h-1zM352 217h1v1h-1zM362 217h1v1h-1zM382 217h1v1h-1zM392 217h1v1h-1zM402 217h1v1h-1zM412 217h1v1h-1zM432 217h1v1h-1zM442 217h1v1h-1zM452 217h1v1h-1zM462 217h1v1h-1zM482 217h1v1h-1zM492 217h1v1h-1zM502 217h1v1h-1zM512 217h1v1h-1zM21 218h1v1h-1zM72 218h1v1h-1zM122 218h1v1h-1zM172 218h1v1h-1zM222 218h1v1h-1zM272 218h1v1h-1zM322 218h1v1h-1zM372 218h1v1h-1zM422 218h1v1h-1zM472 218h1v1h-1zM522 218h1v1h-1zM32 219h1v1h-1zM42 219h1v1h-1zM52 219h1v1h-1zM62 219h1v1h-1zM82 219h1v1h-1zM92 219h1v1h-1zM102 219h1v1h-1zM112 219h1v1h-1zM132 219h1v1h-1zM142 219h1v1h-1zM152 219h1v1h-1zM162 219h1v1h-1zM182 219h1v1h-1zM192 219h1v1h-1zM202 219h1v1h-1zM212 219h1v1h-1zM232 219h1v1h-1zM242 219h1v1h-1zM252 219h1v1h-1zM262 219h1v1h-1zM282 219h1v1h-1zM292 219h1v1h-1zM302 219h1v1h-1zM312 219h1v1h-1zM332 219h1v1h-1zM342 219h1v1h-1zM352 219h1v1h-1zM362 219h1v1h-1zM382 219h1v1h-1zM392 219h1v1h-1zM402 219h1v1h-1zM412 219h1v1h-1zM432 219h1v1h-1zM442 219h1v1h-1zM452 219h1v1h-1zM462 219h1v1h-1zM482 219h1v1h-1zM492 219h1v1h-1zM502 219h1v1h-1zM512 219h1v1h-1zM21 220h8v1h-8zM30 220h1v1h-1zM32 220h1v1h-1zM34 220h1v1h-1zM36 220h1v1h-1zM38 220h1v1h-1zM40 220h1v1h-1zM42 220h1v1h-1zM44 220h1v1h-1zM46 220h1v1h-1zM48 220h1v1h-1zM50 220h1v1h-1zM52 220h1v1h-1zM54 220h1v1h-1zM56 220h1v1h-1zM58 220h1v1h-1zM60 220h1v1h-1zM62 220h1v1h-1zM64 220h1v1h-1zM66 220h1v1h-1zM68 220h1v1h-1zM70 220h1v1h-1zM72 220h1v1h-1zM74 220h1v1h-1zM76 220h1v1h-1zM78 220h1v1h-1zM80 220h1v1h-1zM82 220h1v1h-1zM84 220h1v1h-1zM86 220h1v1h-1zM88 220h1v1h-1zM90 220h1v1h-1zM92 220h1v1h-1zM94 220h1v1h-1zM96 220h1v1h-1zM98 220h1v1h-1zM100 220h1v1h-1zM102 220h1v1h-1zM104 220h1v1h-1zM106 220h1v1h-1zM108 220h1v1h-1zM110 220h1v1h-1zM112 220h1v1h-1zM114 220h1v1h-1zM116 220h1v1h-1zM118 220h1v1h-1zM120 220h1v1h-1zM122 220h1v1h-1zM124 220h1v1h-1zM126 220h1v1h-1zM128 220h1v1h-1zM130 220h1v1h-1zM132 220h1v1h-1zM134 220h1v1h-1zM136 220h1v1h-1zM138 220h1v1h-1zM140 220h1v1h-1zM142 220h1v1h-1zM144 220h1v1h-1zM146 220h1v1h-1zM148 220h1v1h-1zM150 220h1v1h-1zM152 220h1v1h-1zM154 220h1v1h-1zM156 220h1v1h-1zM158 220h1v1h-1zM160 220h1v1h-1zM162 220h1v1h-1zM164 220h1v1h-1zM166 220h1v1h-1zM168 220h1v1h-1zM170 220h1v1h-1zM172 220h1v1h-1zM174 220h1v1h-1zM176 220h1v1h-1zM178 220h1v1h-1zM180 220h1v1h-1zM182 220h1v1h-1zM184 220h1v1h-1zM186 220h1v1h-1zM188 220h1v1h-1zM190 220h1v1h-1zM192 220h1v1h-1zM194 220h1v1h-1zM196 220h1v1h-1zM198 220h1v1h-1zM200 220h1v1h-1zM202 220h1v1h-1zM204 220h1v1h-1zM206 220h1v1h-1zM208 220h1v1h-1zM210 220h1v1h-1zM212 220h1v1h-1zM214 220h1v1h-1zM216 220h1v1h-1zM218 220h1v1h-1zM220 220h1v1h-1zM222 220h1v1h-1zM224 220h1v1h-1zM226 220h1v1h-1zM228 220h1v1h-1zM230 220h1v1h-1zM232 220h1v1h-1zM234 220h1v1h-1zM236 220h1v1h-1zM238 220h1v1h-1zM240 220h1v1h-1zM242 220h1v1h-1zM244 220h1v1h-1zM246 220h1v1h-1zM248 220h1v1h-1zM250 220h1v1h-1zM252 220h1v1h-1zM254 220h1v1h-1zM256 220h1v1h-1zM258 220h1v1h-1zM260 220h1v1h-1zM262 220h1v1h-1zM264 220h1v1h-1zM266 220h1v1h-1zM268 220h1v1h-1zM270 220h1v1h-1zM272 220h1v1h-1zM274 220h1v1h-1zM276 220h1v1h-1zM278 220h1v1h-1zM280 220h1v1h-1zM282 220h1v1h-1zM284 220h1v1h-1zM286 220h1v1h-1zM288 220h1v1h-1zM290 220h1v1h-1zM292 220h1v1h-1zM294 220h1v1h-1zM296 220h1v1h-1zM298 220h1v1h-1zM300 220h1v1h-1zM302 220h1v1h-1zM304 220h1v1h-1zM306 220h1v1h-1zM308 220h1v1h-1zM310 220h1v1h-1zM312 220h1v1h-1zM314 220h1v1h-1zM316 220h1v1h-1zM318 220h1v1h-1zM320 220h1v1h-1zM322 220h1v1h-1zM324 220h1v1h-1zM326 220h1v1h-1zM328 220h1v1h-1zM330 220h1v1h-1zM332 220h1v1h-1zM334 220h1v1h-1zM336 220h1v1h-1zM338 220h1v1h-1zM340 220h1v1h-1zM342 220h1v1h-1zM344 220h1v1h-1zM346 220h1v1h-1zM348 220h1v1h-1zM350 220h1v1h-1zM352 220h1v1h-1zM354 220h1v1h-1zM356 220h1v1h-1zM358 220h1v1h-1zM360 220h1v1h-1zM362 220h1v1h-1zM364 220h1v1h-1zM366 220h1v1h-1zM368 220h1v1h-1zM370 220h1v1h-1zM372 220h1v1h-1zM374 220h1v1h-1zM376 220h1v1h-1zM378 220h1v1h-1zM380 220h1v1h-1zM382 220h1v1h-1zM384 220h1v1h-1zM386 220h1v1h-1zM388 220h1v1h-1zM390 220h1v1h-1zM392 220h1v1h-1zM394 220h1v1h-1zM396 220h1v1h-1zM398 220h1v1h-1zM400 220h1v1h-1zM402 220h1v1h-1zM404 220h1v1h-1zM406 220h1v1h-1zM408 220h1v1h-1zM410 220h1v1h-1zM412 220h1v1h-1zM414 220h1v1h-1zM416 220h1v1h-1zM418 220h1v1h-1zM420 220h1v1h-1zM422 220h1v1h-1zM424 220h1v1h-1zM426 220h1v1h-1zM428 220h1v1h-1zM430 220h1v1h-1zM432 220h1v1h-1zM434 220h1v1h-1zM436 220h1v1h-1zM438 220h1v1h-1zM440 220h1v1h-1zM442 220h1v1h-1zM444 220h1v1h-1zM446 220h1v1h-1zM448 220h1v1h-1zM450 220h1v1h-1zM452 220h1v1h-1zM454 220h1v1h-1zM456 220h1v1h-1zM458 220h1v1h-1zM460 220h1v1h-1zM462 220h1v1h-1zM464 220h1v1h-1zM466 220h1v1h-1zM468 220h1v1h-1zM470 220h1v1h-1zM472 220h1v1h-1zM474 220h1v1h-1zM476 220h1v1h-1zM478 220h1v1h-1zM480 220h1v1h-1zM482 220h1v1h-1zM484 220h1v1h-1zM486 220h1v1h-1zM488 220h1v1h-1zM490 220h1v1h-1zM492 220h1v1h-1zM494 220h1v1h-1zM496 220h1v1h-1zM498 220h1v1h-1zM500 220h1v1h-1zM502 220h1v1h-1zM504 220h1v1h-1zM506 220h1v1h-1zM508 220h1v1h-1zM510 220h1v1h-1zM512 220h1v1h-1zM514 220h1v1h-1zM516 220h1v1h-1zM518 220h1v1h-1zM520 220h1v1h-1zM522 220h1v1h-1zM32 221h1v1h-1zM42 221h1v1h-1zM52 221h1v1h-1zM62 221h1v1h-1zM82 221h1v1h-1zM92 221h1v1h-1zM102 221h1v1h-1zM112 221h1v1h-1zM132 221h1v1h-1zM142 221h1v1h-1zM152 221h1v1h-1zM162 221h1v1h-1zM182 221h1v1h-1zM192 221h1v1h-1zM202 221h1v1h-1zM212 221h1v1h-1zM232 221h1v1h-1zM242 221h1v1h-1zM252 221h1v1h-1zM262 221h1v1h-1zM282 221h1v1h-1zM292 221h1v1h-1zM302 221h1v1h-1zM312 221h1v1h-1zM332 221h1v1h-1zM342 221h1v1h-1zM352 221h1v1h-1zM362 221h1v1h-1zM382 221h1v1h-1zM392 221h1v1h-1zM402 221h1v1h-1zM412 221h1v1h-1zM432 221h1v1h-1zM442 221h1v1h-1zM452 221h1v1h-1zM462 221h1v1h-1zM482 221h1v1h-1zM492 221h1v1h-1zM502 221h1v1h-1zM512 221h1v1h-1zM21 222h1v1h-1zM72 222h1v1h-1zM122 222h1v1h-1zM172 222h1v1h-1zM222 222h1v1h-1zM272 222h1v1h-1zM322 222h1v1h-1zM372 222h1v1h-1zM422 222h1v1h-1zM472 222h1v1h-1zM522 222h1v1h-1zM32 223h1v1h-1zM42 223h1v1h-1zM52 223h1v1h-1zM62 223h1v1h-1zM82 223h1v1h-1zM92 223h1v1h-1zM102 223h1v1h-1zM112 223h1v1h-1zM132 223h1v1h-1zM142 223h1v1h-1zM152 223h1v1h-1zM162 223h1v1h-1zM182 223h1v1h-1zM192 223h1v1h-1zM202 223h1v1h-1zM212 223h1v1h-1zM232 223h1v1h-1zM242 223h1v1h-1zM252 223h1v1h-1zM262 223h1v1h-1zM282 223h1v1h-1zM292 223h1v1h-1zM302 223h1v1h-1zM312 223h1v1h-1zM332 223h1v1h-1zM342 223h1v1h-1zM352 223h1v1h-1zM362 223h1v1h-1zM382 223h1v1h-1zM392 223h1v1h-1zM402 223h1v1h-1zM412 223h1v1h-1zM432 223h1v1h-1zM442 223h1v1h-1zM452 223h1v1h-1zM462 223h1v1h-1zM482 223h1v1h-1zM492 223h1v1h-1zM502 223h1v1h-1zM512 223h1v1h-1zM21 224h1v1h-1zM72 224h1v1h-1zM122 224h1v1h-1zM172 224h1v1h-1zM222 224h1v1h-1zM272 224h1v1h-1zM322 224h1v1h-1zM372 224h1v1h-1zM422 224h1v1h-1zM472 224h1v1h-1zM522 224h1v1h-1zM21 226h1v1h-1zM72 226h1v1h-1zM122 226h1v1h-1zM172 226h1v1h-1zM222 226h1v1h-1zM272 226h1v1h-1zM322 226h1v1h-1zM372 226h1v1h-1zM422 226h1v1h-1zM472 226h1v1h-1zM522 226h1v1h-1zM21 228h1v1h-1zM272 228h1v1h-1zM522 228h1v1h-1zM21 230h2v1h-2zM24 230h1v1h-1zM72 230h1v1h-1zM122 230h1v1h-1zM172 230h1v1h-1zM222 230h1v1h-1zM269 230h1v1h-1zM271 230h3v1h-3zM275 230h1v1h-1zM322 230h1v1h-1zM372 230h1v1h-1zM422 230h1v1h-1zM472 230h1v1h-1zM519 230h1v1h-1zM521 230h2v1h-2zM21 232h1v1h-1zM272 232h1v1h-1zM522 232h1v1h-1zM21 234h1v1h-1zM272 234h1v1h-1zM522 234h1v1h-1zM21 236h1v1h-1zM272 236h1v1h-1zM522 236h1v1h-1zM21 238h1v1h-1zM272 238h1v1h-1zM522 238h1v1h-1zM21 240h2v1h-2zM24 240h1v1h-1zM72 240h1v1h-1zM122 240h1v1h-1zM172 240h1v1h-1zM222 240h1v1h-1zM269 240h1v1h-1zM271 240h3v1h-3zM275 240h1v1h-1zM322 240h1v1h-1zM372 240h1v1h-1zM422 240h1v1h-1zM472 240h1v1h-1zM519 240h1v1h-1zM521 240h2v1h-2zM21 242h1v1h-1zM272 242h1v1h-1zM522 242h1v1h-1zM21 244h1v1h-1zM272 244h1v1h-1zM522 244h1v1h-1zM21 246h1v1h-1zM272 246h1v1h-1zM522 246h1v1h-1zM21 248h1v1h-1zM272 248h1v1h-1zM522 248h1v1h-1zM21 250h2v1h-2zM24 250h1v1h-1zM72 250h1v1h-1zM122 250h1v1h-1zM172 250h1v1h-1zM222 250h1v1h-1zM269 250h1v1h-1zM271 250h3v1h-3zM275 250h1v1h-1zM322 250h1v1h-1zM372 250h1v1h-1zM422 250h1v1h-1zM472 250h1v1h-1zM519 250h1v1h-1zM521 250h2v1h-2zM21 252h1v1h-1zM272 252h1v1h-1zM522 252h1v1h-1zM21 254h1v1h-1zM272 254h1v1h-1zM522 254h1v1h-1zM21 256h1v1h-1zM272 256h1v1h-1zM522 256h1v1h-1zM21 258h1v1h-1zM272 258h1v1h-1zM522 258h1v1h-1zM21 260h2v1h-2zM24 260h1v1h-1zM72 260h1v1h-1zM122 260h1v1h-1zM172 260h1v1h-1zM222 260h1v1h-1zM269 260h1v1h-1zM271 260h3v1h-3zM275 260h1v1h-1zM322 260h1v1h-1zM372 260h1v1h-1zM422 260h1v1h-1zM472 260h1v1h-1zM519 260h1v1h-1zM521 260h2v1h-2zM21 262h1v1h-1zM272 262h1v1h-1zM522 262h1v1h-1zM21 264h1v1h-1zM272 264h1v1h-1zM522 264h1v1h-1zM21 266h1v1h-1zM272 266h1v1h-1zM522 266h1v1h-1zM21 268h1v1h-1zM272 268h1v1h-1zM522 268h1v1h-1zM21 270h1v1h-1zM23 270h1v1h-1zM25 270h1v1h-1zM27 270h1v1h-1zM32 270h1v1h-1zM42 270h1v1h-1zM52 270h1v1h-1zM62 270h1v1h-1zM72 270h1v1h-1zM82 270h1v1h-1zM92 270h1v1h-1zM102 270h1v1h-1zM112 270h1v1h-1zM122 270h1v1h-1zM132 270h1v1h-1zM142 270h1v1h-1zM152 270h1v1h-1zM162 270h1v1h-1zM172 270h1v1h-1zM182 270h1v1h-1zM192 270h1v1h-1zM202 270h1v1h-1zM212 270h1v1h-1zM222 270h1v1h-1zM232 270h1v1h-1zM242 270h1v1h-1zM252 270h1v1h-1zM262 270h1v1h-1zM266 270h1v1h-1zM268 270h1v1h-1zM270 270h1v1h-1zM272 270h1v1h-1zM274 270h1v1h-1zM276 270h1v1h-1zM278 270h1v1h-1zM282 270h1v1h-1zM292 270h1v1h-1zM302 270h1v1h-1zM312 270h1v1h-1zM322 270h1v1h-1zM332 270h1v1h-1zM342 270h1v1h-1zM352 270h1v1h-1zM362 270h1v1h-1zM372 270h1v1h-1zM382 270h1v1h-1zM392 270h1v1h-1zM402 270h1v1h-1zM412 270h1v1h-1zM422 270h1v1h-1zM432 270h1v1h-1zM442 270h1v1h-1zM452 270h1v1h-1zM462 270h1v1h-1zM472 270h1v1h-1zM482 270h1v1h-1zM492 270h1v1h-1zM502 270h1v1h-1zM512 270h1v1h-1zM516 270h1v1h-1zM518 270h1v1h-1zM520 270h1v1h-1zM522 270h1v1h-1zM21 272h1v1h-1zM272 272h1v1h-1zM522 272h1v1h-1zM21 274h1v1h-1zM272 274h1v1h-1zM522 274h1v1h-1zM21 276h1v1h-1zM272 276h1v1h-1zM522 276h1v1h-1zM21 278h1v1h-1zM272 278h1v1h-1zM522 278h1v1h-1zM21 280h2v1h-2zM24 280h1v1h-1zM72 280h1v1h-1zM122 280h1v1h-1zM172 280h1v1h-1zM222 280h1v1h-1zM269 280h1v1h-1zM271 280h3v1h-3zM275 280h1v1h-1zM322 280h1v1h-1zM372 280h1v1h-1zM422 280h1v1h-1zM472 280h1v1h-1zM519 280h1v1h-1zM521 280h2v1h-2zM21 282h1v1h-1zM272 282h1v1h-1zM522 282h1v1h-1zM21 284h1v1h-1zM272 284h1v1h-1zM522 284h1v1h-1zM21 286h1v1h-1zM272 286h1v1h-1zM522 286h1v1h-1zM21 288h1v1h-1zM272 288h1v1h-1zM522 288h1v1h-1zM21 290h2v1h-2zM24 290h1v1h-1zM72 290h1v1h-1zM122 290h1v1h-1zM172 290h1v1h-1zM222 290h1v1h-1zM269 290h1v1h-1zM271 290h3v1h-3zM275 290h1v1h-1zM322 290h1v1h-1zM372 290h1v1h-1zM422 290h1v1h-1zM472 290h1v1h-1zM519 290h1v1h-1zM521 290h2v1h-2zM21 292h1v1h-1zM272 292h1v1h-1zM522 292h1v1h-1zM21 294h1v1h-1zM272 294h1v1h-1zM522 294h1v1h-1zM21 296h1v1h-1zM272 296h1v1h-1zM522 296h1v1h-1zM21 298h1v1h-1zM272 298h1v1h-1zM522 298h1v1h-1zM21 300h2v1h-2zM24 300h1v1h-1zM72 300h1v1h-1zM122 300h1v1h-1zM172 300h1v1h-1zM222 300h1v1h-1zM269 300h1v1h-1zM271 300h3v1h-3zM275 300h1v1h-1zM322 300h1v1h-1zM372 300h1v1h-1zM422 300h1v1h-1zM472 300h1v1h-1zM519 300h1v1h-1zM521 300h2v1h-2zM21 302h1v1h-1zM272 302h1v1h-1zM522 302h1v1h-1zM21 304h1v1h-1zM272 304h1v1h-1zM522 304h1v1h-1zM21 306h1v1h-1zM272 306h1v1h-1zM522 306h1v1h-1zM21 308h1v1h-1zM272 308h1v1h-1zM522 308h1v1h-1zM21 310h2v1h-2zM24 310h1v1h-1zM72 310h1v1h-1zM122 310h1v1h-1zM172 310h1v1h-1zM222 310h1v1h-1zM269 310h1v1h-1zM271 310h3v1h-3zM275 310h1v1h-1zM322 310h1v1h-1zM372 310h1v1h-1zM422 310h1v1h-1zM472 310h1v1h-1zM519 310h1v1h-1zM521 310h2v1h-2zM21 312h1v1h-1zM272 312h1v1h-1zM522 312h1v1h-1zM21 314h1v1h-1zM272 314h1v1h-1zM522 314h1v1h-1zM21 316h1v1h-1zM272 316h1v1h-1zM522 316h1v1h-1zM21 318h1v1h-1zM272 318h1v1h-1zM522 318h1v1h-1zM21 320h1v1h-1zM23 320h1v1h-1zM25 320h1v1h-1zM27 320h1v1h-1zM32 320h1v1h-1zM42 320h1v1h-1zM52 320h1v1h-1zM62 320h1v1h-1zM72 320h1v1h-1zM82 320h1v1h-1zM92 320h1v1h-1zM102 320h1v1h-1zM112 320h1v1h-1zM122 320h1v1h-1zM132 320h1v1h-1zM142 320h1v1h-1zM152 320h1v1h-1zM162 320h1v1h-1zM172 320h1v1h-1zM182 320h1v1h-1zM192 320h1v1h-1zM202 320h1v1h-1zM212 320h1v1h-1zM222 320h1v1h-1zM232 320h1v1h-1zM242 320h1v1h-1zM252 320h1v1h-1zM262 320h1v1h-1zM266 320h1v1h-1zM268 320h1v1h-1zM270 320h1v1h-1zM272 320h1v1h-1zM274 320h1v1h-1zM276 320h1v1h-1zM278 320h1v1h-1zM282 320h1v1h-1zM292 320h1v1h-1zM302 320h1v1h-1zM312 320h1v1h-1zM322 320h1v1h-1zM332 320h1v1h-1zM342 320h1v1h-1zM352 320h1v1h-1zM362 320h1v1h-1zM372 320h1v1h-1zM382 320h1v1h-1zM392 320h1v1h-1zM402 320h1v1h-1zM412 320h1v1h-1zM422 320h1v1h-1zM432 320h1v1h-1zM442 320h1v1h-1zM452 320h1v1h-1zM462 320h1v1h-1zM472 320h1v1h-1zM482 320h1v1h-1zM492 320h1v1h-1zM502 320h1v1h-1zM512 320h1v1h-1zM516 320h1v1h-1zM518 320h1v1h-1zM520 320h1v1h-1zM522 320h1v1h-1zM21 322h1v1h-1zM272 322h1v1h-1zM522 322h1v1h-1zM21 324h1v1h-1zM272 324h1v1h-1zM522 324h1v1h-1zM21 326h1v1h-1zM272 326h1v1h-1zM522 326h1v1h-1zM21 328h1v1h-1zM272 328h1v1h-1zM522 328h1v1h-1zM21 330h2v1h-2zM24 330h1v1h-1zM72 330h1v1h-1zM122 330h1v1h-1zM172 330h1v1h-1zM222 330h1v1h-1zM269 330h1v1h-1zM271 330h3v1h-3zM275 330h1v1h-1zM322 330h1v1h-1zM372 330h1v1h-1zM422 330h1v1h-1zM472 330h1v1h-1zM519 330h1v1h-1zM521 330h2v1h-2zM21 332h1v1h-1zM272 332h1v1h-1zM522 332h1v1h-1zM21 334h1v1h-1zM272 334h1v1h-1zM522 334h1v1h-1zM21 336h1v1h-1zM272 336h1v1h-1zM522 336h1v1h-1zM21 338h1v1h-1zM272 338h1v1h-1zM522 338h1v1h-1zM21 340h2v1h-2zM24 340h1v1h-1zM72 340h1v1h-1zM122 340h1v1h-1zM172 340h1v1h-1zM222 340h1v1h-1zM269 340h1v1h-1zM271 340h3v1h-3zM275 340h1v1h-1zM322 340h1v1h-1zM372 340h1v1h-1zM422 340h1v1h-1zM472 340h1v1h-1zM519 340h1v1h-1zM521 340h2v1h-2zM21 342h1v1h-1zM272 342h1v1h-1zM522 342h1v1h-1zM21 344h1v1h-1zM272 344h1v1h-1zM522 344h1v1h-1zM21 346h1v1h-1zM272 346h1v1h-1zM522 346h1v1h-1zM21 348h1v1h-1zM272 348h1v1h-1zM522 348h1v1h-1zM21 350h2v1h-2zM24 350h1v1h-1zM72 350h1v1h-1zM122 350h1v1h-1zM172 350h1v1h-1zM222 350h1v1h-1zM269 350h1v1h-1zM271 350h3v1h-3zM275 350h1v1h-1zM322 350h1v1h-1zM372 350h1v1h-1zM422 350h1v1h-1zM472 350h1v1h-1zM519 350h1v1h-1zM521 350h2v1h-2zM21 352h1v1h-1zM272 352h1v1h-1zM522 352h1v1h-1zM21 354h1v1h-1zM272 354h1v1h-1zM522 354h1v1h-1zM21 356h1v1h-1zM272 356h1v1h-1zM522 356h1v1h-1zM21 358h1v1h-1zM272 358h1v1h-1zM522 358h1v1h-1zM21 360h2v1h-2zM24 360h1v1h-1zM72 360h1v1h-1zM122 360h1v1h-1zM172 360h1v1h-1zM222 360h1v1h-1zM269 360h1v1h-1zM271 360h3v1h-3zM275 360h1v1h-1zM322 360h1v1h-1zM372 360h1v1h-1zM422 360h1v1h-1zM472 360h1v1h-1zM519 360h1v1h-1zM521 360h2v1h-2zM21 362h1v1h-1zM272 362h1v1h-1zM522 362h1v1h-1zM21 364h1v1h-1zM272 364h1v1h-1zM522 364h1v1h-1zM21 366h1v1h-1zM272 366h1v1h-1zM522 366h1v1h-1zM21 368h1v1h-1zM272 368h1v1h-1zM522 368h1v1h-1zM21 370h1v1h-1zM23 370h1v1h-1zM25 370h1v1h-1zM27 370h1v1h-1zM32 370h1v1h-1zM42 370h1v1h-1zM52 370h1v1h-1zM62 370h1v1h-1zM72 370h1v1h-1zM82 370h1v1h-1zM92 370h1v1h-1zM102 370h1v1h-1zM112 370h1v1h-1zM122 370h1v1h-1zM132 370h1v1h-1zM142 370h1v1h-1zM152 370h1v1h-1zM162 370h1v1h-1zM172 370h1v1h-1zM182 370h1v1h-1zM192 370h1v1h-1zM202 370h1v1h-1zM212 370h1v1h-1zM222 370h1v1h-1zM232 370h1v1h-1zM242 370h1v1h-1zM252 370h1v1h-1zM262 370h1v1h-1zM266 370h1v1h-1zM268 370h1v1h-1zM270 370h1v1h-1zM272 370h1v1h-1zM274 370h1v1h-1zM276 370h1v1h-1zM278 370h1v1h-1zM282 370h1v1h-1zM292 370h1v1h-1zM302 370h1v1h-1zM312 370h1v1h-1zM322 370h1v1h-1zM332 370h1v1h-1zM342 370h1v1h-1zM352 370h1v1h-1zM362 370h1v1h-1zM372 370h1v1h-1zM382 370h1v1h-1zM392 370h1v1h-1zM402 370h1v1h-1zM412 370h1v1h-1zM422 370h1v1h-1zM432 370h1v1h-1zM442 370h1v1h-1zM452 370h1v1h-1zM462 370h1v1h-1zM472 370h1v1h-1zM482 370h1v1h-1zM492 370h1v1h-1zM502 370h1v1h-1zM512 370h1v1h-1zM516 370h1v1h-1zM518 370h1v1h-1zM520 370h1v1h-1zM522 370h1v1h-1zM21 372h1v1h-1zM272 372h1v1h-1zM522 372h1v1h-1zM21 374h1v1h-1zM272 374h1v1h-1zM522 374h1v1h-1zM21 376h1v1h-1zM272 376h1v1h-1zM522 376h1v1h-1zM21 378h1v1h-1zM272 378h1v1h-1zM522 378h1v1h-1zM21 380h2v1h-2zM24 380h1v1h-1zM72 380h1v1h-1zM122 380h1v1h-1zM172 380h1v1h-1zM222 380h1v1h-1zM269 380h1v1h-1zM271 380h3v1h-3zM275 380h1v1h-1zM322 380h1v1h-1zM372 380h1v1h-1zM422 380h1v1h-1zM472 380h1v1h-1zM519 380h1v1h-1zM521 380h2v1h-2zM21 382h1v1h-1zM272 382h1v1h-1zM522 382h1v1h-1zM21 384h1v1h-1zM272 384h1v1h-1zM522 384h1v1h-1zM21 386h1v1h-1zM272 386h1v1h-1zM522 386h1v1h-1zM21 388h1v1h-1zM272 388h1v1h-1zM522 388h1v1h-1zM21 390h2v1h-2zM24 390h1v1h-1zM72 390h1v1h-1zM122 390h1v1h-1zM172 390h1v1h-1zM222 390h1v1h-1zM269 390h1v1h-1zM271 390h3v1h-3zM275 390h1v1h-1zM322 390h1v1h-1zM372 390h1v1h-1zM422 390h1v1h-1zM472 390h1v1h-1zM519 390h1v1h-1zM521 390h2v1h-2zM21 392h1v1h-1zM272 392h1v1h-1zM522 392h1v1h-1zM21 394h1v1h-1zM272 394h1v1h-1zM522 394h1v1h-1zM21 396h1v1h-1zM272 396h1v1h-1zM522 396h1v1h-1zM21 398h1v1h-1zM272 398h1v1h-1zM522 398h1v1h-1zM21 400h2v1h-2zM24 400h1v1h-1zM72 400h1v1h-1zM122 400h1v1h-1zM172 400h1v1h-1zM222 400h1v1h-1zM269 400h1v1h-1zM271 400h3v1h-3zM275 400h1v1h-1zM322 400h1v1h-1zM372 400h1v1h-1zM422 400h1v1h-1zM472 400h1v1h-1zM519 400h1v1h-1zM521 400h2v1h-2zM21 402h1v1h-1zM272 402h1v1h-1zM522 402h1v1h-1zM21 404h1v1h-1zM272 404h1v1h-1zM522 404h1v1h-1zM21 406h1v1h-1zM272 406h1v1h-1zM522 406h1v1h-1zM21 408h1v1h-1zM272 408h1v1h-1zM522 408h1v1h-1zM21 410h2v1h-2zM24 410h1v1h-1zM72 410h1v1h-1zM122 410h1v1h-1zM172 410h1v1h-1zM222 410h1v1h-1zM269 410h1v1h-1zM271 410h3v1h-3zM275 410h1v1h-1zM322 410h1v1h-1zM372 410h1v1h-1zM422 410h1v1h-1zM472 410h1v1h-1zM519 410h1v1h-1zM521 410h2v1h-2zM21 412h1v1h-1zM272 412h1v1h-1zM522 412h1v1h-1zM21 414h1v1h-1zM272 414h1v1h-1zM522 414h1v1h-1zM72 415h1v1h-1zM122 415h1v1h-1zM172 415h1v1h-1zM222 415h1v1h-1zM272 415h1v1h-1zM322 415h1v1h-1zM372 415h1v1h-1zM422 415h1v1h-1zM472 415h1v1h-1zM21 416h1v1h-1zM272 416h1v1h-1zM522 416h1v1h-1zM72 417h1v1h-1zM122 417h1v1h-1zM172 417h1v1h-1zM222 417h1v1h-1zM272 417h1v1h-1zM322 417h1v1h-1zM372 417h1v1h-1zM422 417h1v1h-1zM472 417h1v1h-1zM21 418h1v1h-1zM32 418h1v1h-1zM42 418h1v1h-1zM52 418h1v1h-1zM62 418h1v1h-1zM82 418h1v1h-1zM92 418h1v1h-1zM102 418h1v1h-1zM112 418h1v1h-1zM132 418h1v1h-1zM142 418h1v1h-1zM152 418h1v1h-1zM162 418h1v1h-1zM182 418h1v1h-1zM192 418h1v1h-1zM202 418h1v1h-1zM212 418h1v1h-1zM232 418h1v1h-1zM242 418h1v1h-1zM252 418h1v1h-1zM262 418h1v1h-1zM272 418h1v1h-1zM282 418h1v1h-1zM292 418h1v1h-1zM302 418h1v1h-1zM312 418h1v1h-1zM332 418h1v1h-1zM342 418h1v1h-1zM352 418h1v1h-1zM362 418h1v1h-1zM382 418h1v1h-1zM392 418h1v1h-1zM402 418h1v1h-1zM412 418h1v1h-1zM432 418h1v1h-1zM442 418h1v1h-1zM452 418h1v1h-1zM462 418h1v1h-1zM482 418h1v1h-1zM492 418h1v1h-1zM502 418h1v1h-1zM512 418h1v1h-1zM522 418h1v1h-1zM72 419h1v1h-1zM122 419h1v1h-1zM172 419h1v1h-1zM222 419h1v1h-1zM272 419h1v1h-1zM322 419h1v1h-1zM372 419h1v1h-1zM422 419h1v1h-1zM472 419h1v1h-1zM21 420h1v1h-1zM32 420h1v1h-1zM42 420h1v1h-1zM52 420h1v1h-1zM62 420h1v1h-1zM82 420h1v1h-1zM92 420h1v1h-1zM102 420h1v1h-1zM112 420h1v1h-1zM132 420h1v1h-1zM142 420h1v1h-1zM152 420h1v1h-1zM162 420h1v1h-1zM182 420h1v1h-1zM192 420h1v1h-1zM202 420h1v1h-1zM212 420h1v1h-1zM232 420h1v1h-1zM242 420h1v1h-1zM252 420h1v1h-1zM262 420h1v1h-1zM272 420h1v1h-1zM282 420h1v1h-1zM292 420h1v1h-1zM302 420h1v1h-1zM312 420h1v1h-1zM332 420h1v1h-1zM342 420h1v1h-1zM352 420h1v1h-1zM362 420h1v1h-1zM382 420h1v1h-1zM392 420h1v1h-1zM402 420h1v1h-1zM412 420h1v1h-1zM432 420h1v1h-1zM442 420h1v1h-1zM452 420h1v1h-1zM462 420h1v1h-1zM482 420h1v1h-1zM492 420h1v1h-1zM502 420h1v1h-1zM512 420h1v1h-1zM522 420h1v1h-1zM21 421h2v1h-2zM24 421h1v1h-1zM26 421h1v1h-1zM28 421h1v1h-1zM30 421h1v1h-1zM32 421h1v1h-1zM34 421h1v1h-1zM36 421h1v1h-1zM38 421h1v1h-1zM40 421h1v1h-1zM42 421h1v1h-1zM44 421h1v1h-1zM46 421h1v1h-1zM48 421h1v1h-1zM50 421h1v1h-1zM52 421h1v1h-1zM54 421h1v1h-1zM56 421h1v1h-1zM58 421h1v1h-1zM60 421h1v1h-1zM62 421h1v1h-1zM64 421h1v1h-1zM66 421h1v1h-1zM68 421h1v1h-1zM70 421h1v1h-1zM72 421h1v1h-1zM74 421h1v1h-1zM76 421h1v1h-1zM78 421h1v1h-1zM80 421h1v1h-1zM82 421h1v1h-1zM84 421h1v1h-1zM86 421h1v1h-1zM88 421h1v1h-1zM90 421h1v1h-1zM92 421h1v1h-1zM94 421h1v1h-1zM96 421h1v1h-1zM98 421h1v1h-1zM100 421h1v1h-1zM102 421h1v1h-1zM104 421h1v1h-1zM106 421h1v1h-1zM108 421h1v1h-1zM110 421h1v1h-1zM112 421h1v1h-1zM114 421h1v1h-1zM116 421h1v1h-1zM118 421h1v1h-1zM120 421h1v1h-1zM122 421h1v1h-1zM124 421h1v1h-1zM126 421h1v1h-1zM128 421h1v1h-1zM130 421h1v1h-1zM132 421h1v1h-1zM134 421h1v1h-1zM136 421h1v1h-1zM138 421h1v1h-1zM140 421h1v1h-1zM142 421h1v1h-1zM144 421h1v1h-1zM146 421h1v1h-1zM148 421h1v1h-1zM150 421h1v1h-1zM152 421h1v1h-1zM154 421h1v1h-1zM156 421h1v1h-1zM158 421h1v1h-1zM160 421h1v1h-1zM162 421h1v1h-1zM164 421h1v1h-1zM166 421h1v1h-1zM168 421h1v1h-1zM170 421h1v1h-1zM172 421h1v1h-1zM174 421h1v1h-1zM176 421h1v1h-1zM178 421h1v1h-1zM180 421h1v1h-1zM182 421h1v1h-1zM184 421h1v1h-1zM186 421h1v1h-1zM188 421h1v1h-1zM190 421h1v1h-1zM192 421h1v1h-1zM194 421h1v1h-1zM196 421h1v1h-1zM198 421h1v1h-1zM200 421h1v1h-1zM202 421h1v1h-1zM204 421h1v1h-1zM206 421h1v1h-1zM208 421h1v1h-1zM210 421h1v1h-1zM212 421h1v1h-1zM214 421h1v1h-1zM216 421h1v1h-1zM218 421h1v1h-1zM220 421h1v1h-1zM222 421h1v1h-1zM224 421h1v1h-1zM226 421h1v1h-1zM228 421h1v1h-1zM230 421h1v1h-1zM232 421h1v1h-1zM234 421h1v1h-1zM236 421h1v1h-1zM238 421h1v1h-1zM240 421h1v1h-1zM242 421h1v1h-1zM244 421h1v1h-1zM246 421h1v1h-1zM248 421h1v1h-1zM250 421h1v1h-1zM252 421h1v1h-1zM254 421h1v1h-1zM256 421h1v1h-1zM258 421h1v1h-1zM260 421h1v1h-1zM262 421h1v1h-1zM264 421h1v1h-1zM266 421h1v1h-1zM268 421h1v1h-1zM270 421h1v1h-1zM272 421h1v1h-1zM274 421h1v1h-1zM276 421h1v1h-1zM278 421h1v1h-1zM280 421h1v1h-1zM282 421h1v1h-1zM284 421h1v1h-1zM286 421h1v1h-1zM288 421h1v1h-1zM290 421h1v1h-1zM292 421h1v1h-1zM294 421h1v1h-1zM296 421h1v1h-1zM298 421h1v1h-1zM300 421h1v1h-1zM302 421h1v1h-1zM304 421h1v1h-1zM306 421h1v1h-1zM308 421h1v1h-1zM310 421h1v1h-1zM312 421h1v1h-1zM314 421h1v1h-1zM316 421h1v1h-1zM318 421h1v1h-1zM320 421h1v1h-1zM322 421h1v1h-1zM324 421h1v1h-1zM326 421h1v1h-1zM328 421h1v1h-1zM330 421h1v1h-1zM332 421h1v1h-1zM334 421h1v1h-1zM336 421h1v1h-1zM338 421h1v1h-1zM340 421h1v1h-1zM342 421h1v1h-1zM344 421h1v1h-1zM346 421h1v1h-1zM348 421h1v1h-1zM350 421h1v1h-1zM352 421h1v1h-1zM354 421h1v1h-1zM356 421h1v1h-1zM358 421h1v1h-1zM360 421h1v1h-1zM362 421h1v1h-1zM364 421h1v1h-1zM366 421h1v1h-1zM368 421h1v1h-1zM370 421h1v1h-1zM372 421h1v1h-1zM374 421h1v1h-1zM376 421h1v1h-1zM378 421h1v1h-1zM380 421h1v1h-1zM382 421h1v1h-1zM384 421h1v1h-1zM386 421h1v1h-1zM388 421h1v1h-1zM390 421h1v1h-1zM392 421h1v1h-1zM394 421h1v1h-1zM396 421h1v1h-1zM398 421h1v1h-1zM400 421h1v1h-1zM402 421h1v1h-1zM404 421h1v1h-1zM406 421h1v1h-1zM408 421h1v1h-1zM410 421h1v1h-1zM412 421h1v1h-1zM414 421h1v1h-1zM416 421h1v1h-1zM418 421h1v1h-1zM420 421h1v1h-1zM422 421h1v1h-1zM424 421h1v1h-1zM426 421h1v1h-1zM428 421h1v1h-1zM430 421h1v1h-1zM432 421h1v1h-1zM434 421h1v1h-1zM436 421h1v1h-1zM438 421h1v1h-1zM440 421h1v1h-1zM442 421h1v1h-1zM444 421h1v1h-1zM446 421h1v1h-1zM448 421h1v1h-1zM450 421h1v1h-1zM452 421h1v1h-1zM454 421h1v1h-1zM456 421h1v1h-1zM458 421h1v1h-1zM460 421h1v1h-1zM462 421h1v1h-1zM464 421h1v1h-1zM466 421h1v1h-1zM468 421h1v1h-1zM470 421h1v1h-1zM472 421h1v1h-1zM474 421h1v1h-1zM476 421h1v1h-1zM478 421h1v1h-1zM480 421h1v1h-1zM482 421h1v1h-1zM484 421h1v1h-1zM486 421h1v1h-1zM488 421h1v1h-1zM490 421h1v1h-1zM492 421h1v1h-1zM494 421h1v1h-1zM496 421h1v1h-1zM498 421h1v1h-1zM500 421h1v1h-1zM502 421h1v1h-1zM504 421h1v1h-1zM506 421h1v1h-1zM508 421h1v1h-1zM510 421h1v1h-1zM512 421h1v1h-1zM514 421h1v1h-1zM516 421h1v1h-1zM518 421h1v1h-1zM520 421h1v1h-1zM522 421h1v1h-1z"/>
<g shape-rendering="crispEdges">
<path d="M117 20h11v1h-1v1h-1v1h-1v1h-1v1h-1v1h-2v-1h-1v-1h-1v-1h-1v-1h-1v-1h-1z" fill="#ff7000"/>
<path d="M117 27h10v1h1v11h-1v1h-2v1h-2v1h-2v-1h-2v-1h-2v-1h-1v-11h1z" fill="#ff7000"/>
<path d="M117 28h10v2h-4v9h-2v-9h-4z" fill="#fff"/>
</g>
<g shape-rendering="crispEdges"><path d="M12 140h1v1h-1zM13 141h1v1h-1zM1 141h11v1h-11zM14 142h1v1h-1zM1 142h12v1h-12zM15 143h1v1h-1zM1 143h13v1h-13zM16 144h1v1h-1zM1 144h14v1h-14zM17 145h1v1h-1zM1 145h15v1h-15zM18 146h1v1h-1zM1 146h16v1h-16zM19 147h1v1h-1zM1 147h17v1h-17zM20 148h1v1h-1zM1 148h18v1h-18zM19 149h1v1h-1zM1 149h17v1h-17zM18 150h1v1h-1zM1 150h16v1h-16zM17 151h1v1h-1zM1 151h15v1h-15zM16 152h1v1h-1zM1 152h14v1h-14zM15 153h1v1h-1zM1 153h13v1h-13zM14 154h1v1h-1zM1 154h12v1h-12zM13 155h1v1h-1zM1 155h1v1h-1zM3 155h1v1h-1zM5 155h1v1h-1zM7 155h1v1h-1zM9 155h1v1h-1zM11 155h1v1h-1zM12 156h1v1h-1z" fill="#00009c"/><path d="M0 140h12v1h-11v15h-1zM12 141h1v1h-1zM13 142h1v1h-1zM14 143h1v1h-1zM15 144h1v1h-1zM16 145h1v1h-1zM17 146h1v1h-1zM18 147h1v1h-1zM19 148h1v1h-1z" fill="#a89c6c"/><path d="M18 149h1v1h-1zM17 150h1v1h-1zM16 151h1v1h-1zM15 152h1v1h-1zM14 153h1v1h-1zM13 154h1v1h-1zM12 155h1v1h-1z" fill="#fff"/><path d="M0 362h13v1h-12v15h-1zM13 363h1v1h-1zM14 364h1v1h-1zM15 365h1v1h-1zM16 366h1v1h-1zM17 367h1v1h-1zM18 368h1v1h-1zM19 369h1v1h-1zM20 370h1v1h-1zM19 371h1v1h-1zM18 372h1v1h-1zM17 373h1v1h-1zM16 374h1v1h-1zM15 375h1v1h-1zM14 376h1v1h-1zM13 377h1v1h-1zM1 378h1v1h-1zM3 378h1v1h-1zM5 378h1v1h-1zM7 378h1v1h-1zM9 378h1v1h-1zM11 378h1v1h-1z" fill="#009600"/></g>
<text x="3.5" y="154" font-family="NanumGothic, sans-serif" font-weight="bold" font-size="15" fill="#fff" stroke="#fff" stroke-width="0.5">1</text>
<text x="3.6" y="376" font-size="14.2" fill="#009600" stroke="#009600" stroke-width="0.45">4</text>
<path d="M511 331.5l6-5.5v11z" fill="#009600"/>
<rect x="517" y="330" width="5" height="1" fill="#fff"/>
<rect x="516" y="331" width="6" height="1" fill="#009600"/>
<text x="550.00" y="155" font-size="15" letter-spacing="0.30" fill="#000098" stroke="#000098" stroke-width="0.45">Ch<tspan font-family="NanumGothic" font-weight="bold" font-size="16">1</tspan> Max</text>
<text x="553.00" y="171" font-size="15" letter-spacing="0.54" fill="#000098" stroke="#000098" stroke-width="0.45">78.0mV</text>
<text x="551.00" y="226" font-size="15" letter-spacing="1.05" fill="#000098" stroke="#000098" stroke-width="0.45">Ch<tspan font-family="NanumGothic" font-weight="bold" font-size="16">1</tspan> Min</text>
<text x="550.00" y="242" font-size="15" letter-spacing="0.18" fill="#000098" stroke="#000098" stroke-width="0.45">&#8722;<tspan font-family="NanumGothic" font-weight="bold" font-size="16">1</tspan>02mV</text>
<text x="547.00" y="297" font-size="15" letter-spacing="0.77" fill="#009600" stroke="#009600" stroke-width="0.45">Ch4 High</text>
<text x="556.00" y="313" font-size="15" letter-spacing="0.23" fill="#009600" stroke="#009600" stroke-width="0.45">480mA</text>
<text x="550.00" y="369" font-size="15" letter-spacing="0.60" fill="#009600" stroke="#009600" stroke-width="0.45">Ch4 Low</text>
<text x="556.00" y="384" font-size="15" letter-spacing="0.23" fill="#009600" stroke="#009600" stroke-width="0.45">220mA</text>
<g shape-rendering="crispEdges">
<rect x="19" y="425" width="31" height="16" fill="#000098"/>
<path d="M51 424h99v1h-99zM51 424h1v17h-1zM149 424h1v17h-1zM297 424h61v1h-61zM297 424h1v17h-1zM357 424h1v17h-1zM384 425h1v17h-1zM524 425h1v17h-1zM183 443h99v1h-99zM183 443h1v17h-1zM281 443h1v17h-1zM302 462h75v1h-75zM302 462h1v17h-1zM376 462h1v17h-1z" fill="#858585"/><path d="M51 441h99v1h-99zM297 441h61v1h-61zM384 442h141v1h-141zM183 460h99v1h-99zM302 479h75v1h-75z" fill="#ababab"/>
<path d="M287 464h10v1h1v11h-1v1h-10v-1h-1v-11h1z" fill="#ff7000"/>
<path d="M287 465h10v2h-4v9h-2v-9h-4z" fill="#fff"/>
</g>
<text x="20.00" y="438" font-size="15" letter-spacing="0.90" fill="#fff" stroke="#fff" stroke-width="0.25">Ch<tspan font-family="NanumGothic" font-weight="bold" font-size="16">1</tspan></text>
<text x="67.00" y="438" font-size="15" fill="#000098" stroke="#000098" stroke-width="0.45"><tspan font-family="NanumGothic" font-weight="bold" font-size="16">1</tspan>00mV</text>
<path shape-rendering="crispEdges" fill="#000098" d="M127 430h1v3h-1z M128 428h1v2h-1z M129 427h1v1h-1z M130 428h1v2h-1z M131 430h1v2h-1z M132 432h1v3h-1z M133 435h1v2h-1z M134 437h1v1h-1z M135 435h1v2h-1z M136 432h1v3h-1z"/>
<text x="139.6" y="434" font-size="9.2" font-weight="bold" textLength="4.6" lengthAdjust="spacingAndGlyphs" fill="#000098">B</text>
<text x="143.6" y="438" font-size="9.2" font-weight="bold" textLength="5.6" lengthAdjust="spacingAndGlyphs" fill="#000098">W</text>
<text x="283.00" y="438" font-size="15" fill="#000" stroke="#000" stroke-width="0.3">M</text>
<text x="301.00" y="438" font-size="15" letter-spacing="0.90" fill="#000" stroke="#000" stroke-width="0.45">20.0&#181;s</text>
<text x="373.00" y="438" font-size="15" fill="#000" stroke="#000" stroke-width="0.45">A</text>
<text x="398.00" y="438" font-size="15" letter-spacing="0.45" fill="#009600" stroke="#009600" stroke-width="0.45">Ch4</text>
<path d="M439 437h5l2.5-9h4.5" fill="none" stroke="#000" stroke-width="1.8"/>
<text x="469.00" y="438" font-size="15" letter-spacing="0.23" fill="#000" stroke="#000" stroke-width="0.45">390mA</text>
<text x="152.00" y="457" font-size="15" letter-spacing="0.45" fill="#009600" stroke="#009600" stroke-width="0.45">Ch4</text>
<text x="199.00" y="457" font-size="15" letter-spacing="0.68" fill="#009600" stroke="#009600" stroke-width="0.45">500mA</text>
<text x="258.00" y="457" font-size="16" fill="#009600" stroke="#009600" stroke-width="0.1">&#937;</text>
<text x="304.00" y="476" font-size="15" fill="#000" stroke="#000" stroke-width="0.45">20.00 %</text>
<text x="537.00" y="460" font-size="15" letter-spacing="0.25" fill="#000" stroke="#000" stroke-width="0.45" xml:space="preserve"><tspan font-family="NanumGothic" font-weight="bold" font-size="16">1</tspan>7 Sep  20<tspan font-family="NanumGothic" font-weight="bold" font-size="16">1</tspan>6</text>
<text x="537.00" y="476" font-size="15" letter-spacing="0.64" fill="#000" stroke="#000" stroke-width="0.45"><tspan font-family="NanumGothic" font-weight="bold" font-size="16">1</tspan>3:38:49</text>
</svg>
</body></html>
